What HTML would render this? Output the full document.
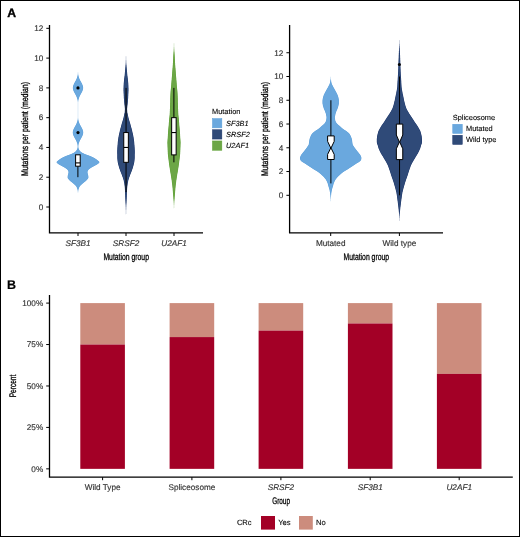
<!DOCTYPE html>
<html><head><meta charset="utf-8"><style>
html,body{margin:0;padding:0;background:#fff;}
svg{display:block;will-change:transform;}
text{font-family:"Liberation Sans",sans-serif;text-rendering:geometricPrecision;}
</style></head><body>
<svg width="520" height="537" viewBox="0 0 520 537">
<rect x="0.5" y="0.5" width="519" height="536" fill="#fff" stroke="#000" stroke-width="1"/>
<text x="7.2" y="17.4" font-size="12.2" text-anchor="start" fill="#000" font-weight="bold" stroke="#000" stroke-width="0.35">A</text>
<text x="7.1" y="288.7" font-size="12.5" text-anchor="start" fill="#000" font-weight="bold" stroke="#000" stroke-width="0.2">B</text>
<path d="M49.5,25 L49.5,232.9 L203,232.9" fill="none" stroke="#000" stroke-width="1.3"/>
<line x1="46.3" y1="207.00" x2="49.5" y2="207.00" stroke="#000" stroke-width="1"/>
<text x="43.3" y="209.8" font-size="8.2" text-anchor="end" fill="#333" font-weight="normal" stroke="#333" stroke-width="0.15">0</text>
<line x1="46.3" y1="177.22" x2="49.5" y2="177.22" stroke="#000" stroke-width="1"/>
<text x="43.3" y="180.02" font-size="8.2" text-anchor="end" fill="#333" font-weight="normal" stroke="#333" stroke-width="0.15">2</text>
<line x1="46.3" y1="147.44" x2="49.5" y2="147.44" stroke="#000" stroke-width="1"/>
<text x="43.3" y="150.24" font-size="8.2" text-anchor="end" fill="#333" font-weight="normal" stroke="#333" stroke-width="0.15">4</text>
<line x1="46.3" y1="117.66" x2="49.5" y2="117.66" stroke="#000" stroke-width="1"/>
<text x="43.3" y="120.46" font-size="8.2" text-anchor="end" fill="#333" font-weight="normal" stroke="#333" stroke-width="0.15">6</text>
<line x1="46.3" y1="87.88" x2="49.5" y2="87.88" stroke="#000" stroke-width="1"/>
<text x="43.3" y="90.67999999999999" font-size="8.2" text-anchor="end" fill="#333" font-weight="normal" stroke="#333" stroke-width="0.15">8</text>
<line x1="46.3" y1="58.10" x2="49.5" y2="58.10" stroke="#000" stroke-width="1"/>
<text x="43.3" y="60.89999999999999" font-size="8.2" text-anchor="end" fill="#333" font-weight="normal" stroke="#333" stroke-width="0.15">10</text>
<line x1="46.3" y1="28.32" x2="49.5" y2="28.32" stroke="#000" stroke-width="1"/>
<text x="43.3" y="31.119999999999994" font-size="8.2" text-anchor="end" fill="#333" font-weight="normal" stroke="#333" stroke-width="0.15">12</text>
<line x1="78" y1="233" x2="78" y2="236" stroke="#000" stroke-width="1"/>
<text x="78" y="246.4" font-size="8.2" text-anchor="middle" fill="#333" font-weight="normal" font-style="italic" stroke="#333" stroke-width="0.15">SF3B1</text>
<line x1="126" y1="233" x2="126" y2="236" stroke="#000" stroke-width="1"/>
<text x="126" y="246.4" font-size="8.2" text-anchor="middle" fill="#333" font-weight="normal" font-style="italic" stroke="#333" stroke-width="0.15">SRSF2</text>
<line x1="174" y1="233" x2="174" y2="236" stroke="#000" stroke-width="1"/>
<text x="174" y="246.4" font-size="8.2" text-anchor="middle" fill="#333" font-weight="normal" font-style="italic" stroke="#333" stroke-width="0.15">U2AF1</text>
<text x="126.2" y="260" font-size="9.6" text-anchor="middle" fill="#000" font-weight="normal" stroke="#000" stroke-width="0.3" textLength="45.5" lengthAdjust="spacingAndGlyphs">Mutation group</text>
<text x="28.2" y="129" font-size="9.6" text-anchor="middle" fill="#000" font-weight="normal" stroke="#000" stroke-width="0.3" textLength="94" lengthAdjust="spacingAndGlyphs" transform="rotate(-90 28.2 129)">Mutations per patient (median)</text>
<path d="M78.0,69.5 L78.0,70.0 L78.0,70.5 L78.0,71.0 L78.0,71.5 L78.0,72.0 L78.1,72.5 L78.1,73.0 L78.1,73.5 L78.2,74.0 L78.2,74.5 L78.3,75.0 L78.4,75.5 L78.5,76.0 L78.6,76.5 L78.8,77.0 L78.9,77.5 L79.1,78.0 L79.3,78.5 L79.5,79.0 L79.7,79.5 L80.0,80.0 L80.2,80.5 L80.5,81.0 L80.8,81.5 L81.1,82.0 L81.3,82.5 L81.6,83.0 L81.9,83.5 L82.1,84.0 L82.3,84.5 L82.5,85.0 L82.7,85.5 L82.9,86.0 L83.0,86.5 L83.1,87.0 L83.1,87.5 L83.1,88.0 L83.1,88.5 L83.0,89.0 L82.9,89.5 L82.8,90.0 L82.6,90.5 L82.4,91.0 L82.2,91.5 L81.9,92.0 L81.7,92.5 L81.4,93.0 L81.1,93.5 L80.8,94.0 L80.6,94.5 L80.3,95.0 L80.0,95.5 L79.8,96.0 L79.6,96.5 L79.3,97.0 L79.2,97.5 L79.0,98.0 L78.8,98.5 L78.7,99.0 L78.5,99.5 L78.4,100.0 L78.3,100.5 L78.3,101.0 L78.2,101.5 L78.1,102.0 L78.1,102.5 L78.1,103.0 L78.1,103.5 L78.1,104.0 L78.1,104.5 L78.1,105.0 L78.1,105.5 L78.1,106.0 L78.1,106.5 L78.1,107.0 L78.1,107.5 L78.1,108.0 L78.1,108.5 L78.1,109.0 L78.1,109.5 L78.1,110.0 L78.1,110.5 L78.1,111.0 L78.1,111.5 L78.1,112.0 L78.1,112.5 L78.1,113.0 L78.1,113.5 L78.1,114.0 L78.1,114.5 L78.1,115.0 L78.1,115.5 L78.1,116.0 L78.1,116.5 L78.1,117.0 L78.1,117.5 L78.1,118.0 L78.2,118.5 L78.2,119.0 L78.3,119.5 L78.4,120.0 L78.5,120.5 L78.6,121.0 L78.7,121.5 L78.9,122.0 L79.1,122.5 L79.3,123.0 L79.5,123.5 L79.7,124.0 L79.9,124.5 L80.2,125.0 L80.5,125.5 L80.7,126.0 L81.0,126.5 L81.3,127.0 L81.6,127.5 L81.8,128.0 L82.1,128.5 L82.3,129.0 L82.6,129.5 L82.7,130.0 L82.9,130.5 L83.0,131.0 L83.1,131.5 L83.2,132.0 L83.2,132.5 L83.2,133.0 L83.1,133.5 L83.0,134.0 L82.9,134.5 L82.7,135.0 L82.6,135.5 L82.3,136.0 L82.1,136.5 L81.8,137.0 L81.6,137.5 L81.3,138.0 L81.0,138.5 L80.7,139.0 L80.5,139.5 L80.2,140.0 L79.9,140.5 L79.7,141.0 L79.5,141.5 L79.3,142.0 L79.1,142.5 L78.9,143.0 L78.7,143.5 L78.6,144.0 L78.5,144.5 L78.4,145.0 L78.4,145.5 L78.4,146.0 L78.3,146.5 L78.4,147.0 L78.4,147.5 L78.5,148.0 L78.6,148.5 L78.8,149.0 L79.0,149.5 L79.3,150.0 L79.6,150.5 L80.0,151.0 L80.5,151.5 L81.0,152.0 L81.8,152.5 L82.6,153.0 L83.6,153.5 L84.7,154.0 L85.9,154.5 L87.3,155.0 L88.7,155.5 L90.0,156.0 L91.2,156.5 L92.3,157.0 L93.3,157.5 L94.2,158.0 L95.1,158.5 L95.8,159.0 L96.6,159.5 L97.2,160.0 L97.8,160.5 L98.5,161.0 L99.0,161.5 L99.4,162.0 L99.4,162.5 L99.0,163.0 L98.4,163.5 L97.7,164.0 L97.0,164.5 L96.1,165.0 L95.1,165.5 L94.2,166.0 L93.3,166.5 L92.4,167.0 L91.5,167.5 L90.7,168.0 L90.0,168.5 L89.3,169.0 L88.7,169.5 L88.3,170.0 L88.0,170.5 L87.8,171.0 L87.6,171.5 L87.5,172.0 L87.5,172.5 L87.6,173.0 L87.7,173.5 L87.8,174.0 L87.9,174.5 L88.1,175.0 L88.2,175.5 L88.3,176.0 L88.4,176.5 L88.4,177.0 L88.4,177.5 L88.3,178.0 L88.0,178.5 L87.7,179.0 L87.2,179.5 L86.8,180.0 L86.3,180.5 L85.8,181.0 L85.2,181.5 L84.5,182.0 L83.9,182.5 L83.3,183.0 L82.7,183.5 L82.1,184.0 L81.6,184.5 L81.0,185.0 L80.5,185.5 L80.1,186.0 L79.7,186.5 L79.4,187.0 L79.2,187.5 L79.0,188.0 L78.8,188.5 L78.6,189.0 L78.5,189.5 L78.4,190.0 L78.3,190.5 L78.2,191.0 L78.2,191.5 L78.1,192.0 L78.1,192.5 L78.0,193.0 L78.0,193.5 L78.0,194.0 L78.0,194.5 L78.0,195.0 L78.0,195.5 L78.0,196.0 L78.0,196.0 L78.0,195.5 L78.0,195.0 L78.0,194.5 L78.0,194.0 L78.0,193.5 L78.0,193.0 L77.9,192.5 L77.9,192.0 L77.8,191.5 L77.8,191.0 L77.7,190.5 L77.6,190.0 L77.5,189.5 L77.4,189.0 L77.2,188.5 L77.0,188.0 L76.8,187.5 L76.6,187.0 L76.3,186.5 L75.9,186.0 L75.5,185.5 L75.0,185.0 L74.4,184.5 L73.9,184.0 L73.3,183.5 L72.7,183.0 L72.1,182.5 L71.5,182.0 L70.8,181.5 L70.2,181.0 L69.7,180.5 L69.2,180.0 L68.8,179.5 L68.3,179.0 L68.0,178.5 L67.7,178.0 L67.6,177.5 L67.6,177.0 L67.6,176.5 L67.7,176.0 L67.8,175.5 L67.9,175.0 L68.1,174.5 L68.2,174.0 L68.3,173.5 L68.4,173.0 L68.5,172.5 L68.5,172.0 L68.4,171.5 L68.2,171.0 L68.0,170.5 L67.7,170.0 L67.3,169.5 L66.7,169.0 L66.0,168.5 L65.3,168.0 L64.5,167.5 L63.6,167.0 L62.7,166.5 L61.8,166.0 L60.9,165.5 L59.9,165.0 L59.0,164.5 L58.3,164.0 L57.6,163.5 L57.0,163.0 L56.6,162.5 L56.6,162.0 L57.0,161.5 L57.5,161.0 L58.2,160.5 L58.8,160.0 L59.4,159.5 L60.2,159.0 L60.9,158.5 L61.8,158.0 L62.7,157.5 L63.7,157.0 L64.8,156.5 L66.0,156.0 L67.3,155.5 L68.7,155.0 L70.1,154.5 L71.3,154.0 L72.4,153.5 L73.4,153.0 L74.2,152.5 L75.0,152.0 L75.5,151.5 L76.0,151.0 L76.4,150.5 L76.7,150.0 L77.0,149.5 L77.2,149.0 L77.4,148.5 L77.5,148.0 L77.6,147.5 L77.6,147.0 L77.7,146.5 L77.6,146.0 L77.6,145.5 L77.6,145.0 L77.5,144.5 L77.4,144.0 L77.3,143.5 L77.1,143.0 L76.9,142.5 L76.7,142.0 L76.5,141.5 L76.3,141.0 L76.1,140.5 L75.8,140.0 L75.5,139.5 L75.3,139.0 L75.0,138.5 L74.7,138.0 L74.4,137.5 L74.2,137.0 L73.9,136.5 L73.7,136.0 L73.4,135.5 L73.3,135.0 L73.1,134.5 L73.0,134.0 L72.9,133.5 L72.8,133.0 L72.8,132.5 L72.8,132.0 L72.9,131.5 L73.0,131.0 L73.1,130.5 L73.3,130.0 L73.4,129.5 L73.7,129.0 L73.9,128.5 L74.2,128.0 L74.4,127.5 L74.7,127.0 L75.0,126.5 L75.3,126.0 L75.5,125.5 L75.8,125.0 L76.1,124.5 L76.3,124.0 L76.5,123.5 L76.7,123.0 L76.9,122.5 L77.1,122.0 L77.3,121.5 L77.4,121.0 L77.5,120.5 L77.6,120.0 L77.7,119.5 L77.8,119.0 L77.8,118.5 L77.9,118.0 L77.9,117.5 L77.9,117.0 L77.9,116.5 L77.9,116.0 L77.9,115.5 L77.9,115.0 L77.9,114.5 L77.9,114.0 L77.9,113.5 L77.9,113.0 L77.9,112.5 L77.9,112.0 L77.9,111.5 L77.9,111.0 L77.9,110.5 L77.9,110.0 L77.9,109.5 L77.9,109.0 L77.9,108.5 L77.9,108.0 L77.9,107.5 L77.9,107.0 L77.9,106.5 L77.9,106.0 L77.9,105.5 L77.9,105.0 L77.9,104.5 L77.9,104.0 L77.9,103.5 L77.9,103.0 L77.9,102.5 L77.9,102.0 L77.8,101.5 L77.7,101.0 L77.7,100.5 L77.6,100.0 L77.5,99.5 L77.3,99.0 L77.2,98.5 L77.0,98.0 L76.8,97.5 L76.7,97.0 L76.4,96.5 L76.2,96.0 L76.0,95.5 L75.7,95.0 L75.4,94.5 L75.2,94.0 L74.9,93.5 L74.6,93.0 L74.3,92.5 L74.1,92.0 L73.8,91.5 L73.6,91.0 L73.4,90.5 L73.2,90.0 L73.1,89.5 L73.0,89.0 L72.9,88.5 L72.9,88.0 L72.9,87.5 L72.9,87.0 L73.0,86.5 L73.1,86.0 L73.3,85.5 L73.5,85.0 L73.7,84.5 L73.9,84.0 L74.1,83.5 L74.4,83.0 L74.7,82.5 L74.9,82.0 L75.2,81.5 L75.5,81.0 L75.8,80.5 L76.0,80.0 L76.3,79.5 L76.5,79.0 L76.7,78.5 L76.9,78.0 L77.1,77.5 L77.2,77.0 L77.4,76.5 L77.5,76.0 L77.6,75.5 L77.7,75.0 L77.8,74.5 L77.8,74.0 L77.9,73.5 L77.9,73.0 L77.9,72.5 L78.0,72.0 L78.0,71.5 L78.0,71.0 L78.0,70.5 L78.0,70.0 L78.0,69.5Z" fill="#5A9EDA"/>
<path d="M78.1,75.5 L78.2,76.0 L78.3,76.5 L78.4,77.0 L78.6,77.5 L78.8,78.0 L79.0,78.5 L79.2,79.0 L79.4,79.5 L79.6,80.0 L79.9,80.5 L80.2,81.0 L80.4,81.5 L80.7,82.0 L81.0,82.5 L81.3,83.0 L81.5,83.5 L81.8,84.0 L82.0,84.5 L82.2,85.0 L82.4,85.5 L82.5,86.0 L82.6,86.5 L82.7,87.0 L82.8,87.5 L82.8,88.0 L82.7,88.5 L82.7,89.0 L82.5,89.5 L82.4,90.0 L82.2,90.5 L82.0,91.0 L81.8,91.5 L81.6,92.0 L81.3,92.5 L81.0,93.0 L80.8,93.5 L80.5,94.0 L80.2,94.5 L79.9,95.0 L79.7,95.5 L79.4,96.0 L79.2,96.5 L79.0,97.0 L78.8,97.5 L78.6,98.0 L78.5,98.5 L78.3,99.0 L78.2,99.5 L78.1,100.0 L78.0,100.5 L78.0,101.0 L78.0,101.5 L78.0,102.0 L78.0,102.5 L78.0,103.0 L78.0,103.5 L78.0,104.0 L78.0,104.5 L78.0,105.0 L78.0,105.5 L78.0,106.0 L78.0,106.5 L78.0,107.0 L78.0,107.5 L78.0,108.0 L78.0,108.5 L78.0,109.0 L78.0,109.5 L78.0,110.0 L78.0,110.5 L78.0,111.0 L78.0,111.5 L78.0,112.0 L78.0,112.5 L78.0,113.0 L78.0,113.5 L78.0,114.0 L78.0,114.5 L78.0,115.0 L78.0,115.5 L78.0,116.0 L78.0,116.5 L78.0,117.0 L78.0,117.5 L78.0,118.0 L78.0,118.5 L78.0,119.0 L78.0,119.5 L78.0,120.0 L78.1,120.5 L78.3,121.0 L78.4,121.5 L78.5,122.0 L78.7,122.5 L78.9,123.0 L79.1,123.5 L79.3,124.0 L79.6,124.5 L79.8,125.0 L80.1,125.5 L80.4,126.0 L80.7,126.5 L80.9,127.0 L81.2,127.5 L81.5,128.0 L81.7,128.5 L82.0,129.0 L82.2,129.5 L82.4,130.0 L82.6,130.5 L82.7,131.0 L82.8,131.5 L82.8,132.0 L82.9,132.5 L82.8,133.0 L82.8,133.5 L82.7,134.0 L82.6,134.5 L82.4,135.0 L82.2,135.5 L82.0,136.0 L81.7,136.5 L81.5,137.0 L81.2,137.5 L80.9,138.0 L80.7,138.5 L80.4,139.0 L80.1,139.5 L79.8,140.0 L79.6,140.5 L79.3,141.0 L79.1,141.5 L78.9,142.0 L78.7,142.5 L78.5,143.0 L78.4,143.5 L78.3,144.0 L78.2,144.5 L78.1,145.0 L78.0,145.5 L78.0,146.0 L78.0,146.5 L78.0,147.0 L78.0,147.5 L78.1,148.0 L78.2,148.5 L78.4,149.0 L78.7,149.5 L79.0,150.0 L79.3,150.5 L79.7,151.0 L80.1,151.5 L80.7,152.0 L81.4,152.5 L82.3,153.0 L83.3,153.5 L84.4,154.0 L85.6,154.5 L87.0,155.0 L88.4,155.5 L89.7,156.0 L90.8,156.5 L91.9,157.0 L92.9,157.5 L93.9,158.0 L94.7,158.5 L95.5,159.0 L96.2,159.5 L96.9,160.0 L97.5,160.5 L98.1,161.0 L98.7,161.5 L99.0,162.0 L99.1,162.5 L98.7,163.0 L98.0,163.5 L97.4,164.0 L96.6,164.5 L95.7,165.0 L94.8,165.5 L93.9,166.0 L93.0,166.5 L92.0,167.0 L91.1,167.5 L90.4,168.0 L89.6,168.5 L89.0,169.0 L88.4,169.5 L88.0,170.0 L87.7,170.5 L87.4,171.0 L87.2,171.5 L87.2,172.0 L87.2,172.5 L87.3,173.0 L87.4,173.5 L87.5,174.0 L87.6,174.5 L87.7,175.0 L87.9,175.5 L88.0,176.0 L88.0,176.5 L88.0,177.0 L88.1,177.5 L88.0,178.0 L87.7,178.5 L87.3,179.0 L86.9,179.5 L86.4,180.0 L86.0,180.5 L85.4,181.0 L84.8,181.5 L84.2,182.0 L83.5,182.5 L82.9,183.0 L82.4,183.5 L81.8,184.0 L81.2,184.5 L80.7,185.0 L80.2,185.5 L79.7,186.0 L79.3,186.5 L79.1,187.0 L78.8,187.5 L78.6,188.0 L78.4,188.5 L78.3,189.0 L78.1,189.5 L78.0,190.0 L78.0,190.0 L77.9,189.5 L77.7,189.0 L77.6,188.5 L77.4,188.0 L77.2,187.5 L76.9,187.0 L76.7,186.5 L76.3,186.0 L75.8,185.5 L75.3,185.0 L74.8,184.5 L74.2,184.0 L73.6,183.5 L73.1,183.0 L72.5,182.5 L71.8,182.0 L71.2,181.5 L70.6,181.0 L70.0,180.5 L69.6,180.0 L69.1,179.5 L68.7,179.0 L68.3,178.5 L68.0,178.0 L67.9,177.5 L68.0,177.0 L68.0,176.5 L68.0,176.0 L68.1,175.5 L68.3,175.0 L68.4,174.5 L68.5,174.0 L68.6,173.5 L68.7,173.0 L68.8,172.5 L68.8,172.0 L68.8,171.5 L68.6,171.0 L68.3,170.5 L68.0,170.0 L67.6,169.5 L67.0,169.0 L66.4,168.5 L65.6,168.0 L64.9,167.5 L64.0,167.0 L63.0,166.5 L62.1,166.0 L61.2,165.5 L60.3,165.0 L59.4,164.5 L58.6,164.0 L58.0,163.5 L57.3,163.0 L56.9,162.5 L57.0,162.0 L57.3,161.5 L57.9,161.0 L58.5,160.5 L59.1,160.0 L59.8,159.5 L60.5,159.0 L61.3,158.5 L62.1,158.0 L63.1,157.5 L64.1,157.0 L65.2,156.5 L66.3,156.0 L67.6,155.5 L69.0,155.0 L70.4,154.5 L71.6,154.0 L72.7,153.5 L73.7,153.0 L74.6,152.5 L75.3,152.0 L75.9,151.5 L76.3,151.0 L76.7,150.5 L77.0,150.0 L77.3,149.5 L77.6,149.0 L77.8,148.5 L77.9,148.0 L78.0,147.5 L78.0,147.0 L78.0,146.5 L78.0,146.0 L78.0,145.5 L77.9,145.0 L77.8,144.5 L77.7,144.0 L77.6,143.5 L77.5,143.0 L77.3,142.5 L77.1,142.0 L76.9,141.5 L76.7,141.0 L76.4,140.5 L76.2,140.0 L75.9,139.5 L75.6,139.0 L75.3,138.5 L75.1,138.0 L74.8,137.5 L74.5,137.0 L74.3,136.5 L74.0,136.0 L73.8,135.5 L73.6,135.0 L73.4,134.5 L73.3,134.0 L73.2,133.5 L73.2,133.0 L73.1,132.5 L73.2,132.0 L73.2,131.5 L73.3,131.0 L73.4,130.5 L73.6,130.0 L73.8,129.5 L74.0,129.0 L74.3,128.5 L74.5,128.0 L74.8,127.5 L75.1,127.0 L75.3,126.5 L75.6,126.0 L75.9,125.5 L76.2,125.0 L76.4,124.5 L76.7,124.0 L76.9,123.5 L77.1,123.0 L77.3,122.5 L77.5,122.0 L77.6,121.5 L77.7,121.0 L77.9,120.5 L78.0,120.0 L78.0,119.5 L78.0,119.0 L78.0,118.5 L78.0,118.0 L78.0,117.5 L78.0,117.0 L78.0,116.5 L78.0,116.0 L78.0,115.5 L78.0,115.0 L78.0,114.5 L78.0,114.0 L78.0,113.5 L78.0,113.0 L78.0,112.5 L78.0,112.0 L78.0,111.5 L78.0,111.0 L78.0,110.5 L78.0,110.0 L78.0,109.5 L78.0,109.0 L78.0,108.5 L78.0,108.0 L78.0,107.5 L78.0,107.0 L78.0,106.5 L78.0,106.0 L78.0,105.5 L78.0,105.0 L78.0,104.5 L78.0,104.0 L78.0,103.5 L78.0,103.0 L78.0,102.5 L78.0,102.0 L78.0,101.5 L78.0,101.0 L78.0,100.5 L77.9,100.0 L77.8,99.5 L77.7,99.0 L77.5,98.5 L77.4,98.0 L77.2,97.5 L77.0,97.0 L76.8,96.5 L76.6,96.0 L76.3,95.5 L76.1,95.0 L75.8,94.5 L75.5,94.0 L75.2,93.5 L75.0,93.0 L74.7,92.5 L74.4,92.0 L74.2,91.5 L74.0,91.0 L73.8,90.5 L73.6,90.0 L73.5,89.5 L73.3,89.0 L73.3,88.5 L73.2,88.0 L73.2,87.5 L73.3,87.0 L73.4,86.5 L73.5,86.0 L73.6,85.5 L73.8,85.0 L74.0,84.5 L74.2,84.0 L74.5,83.5 L74.7,83.0 L75.0,82.5 L75.3,82.0 L75.6,81.5 L75.8,81.0 L76.1,80.5 L76.4,80.0 L76.6,79.5 L76.8,79.0 L77.0,78.5 L77.2,78.0 L77.4,77.5 L77.6,77.0 L77.7,76.5 L77.8,76.0 L77.9,75.5Z" fill="#6AA8DE"/>
<path d="M126.0,52.0 L126.0,52.5 L126.0,53.0 L126.0,53.5 L126.0,54.0 L126.0,54.5 L126.0,55.0 L126.0,55.5 L126.0,56.0 L126.1,56.5 L126.1,57.0 L126.1,57.5 L126.1,58.0 L126.1,58.5 L126.1,59.0 L126.1,59.5 L126.1,60.0 L126.2,60.5 L126.2,61.0 L126.2,61.5 L126.2,62.0 L126.2,62.5 L126.3,63.0 L126.3,63.5 L126.3,64.0 L126.4,64.5 L126.4,65.0 L126.5,65.5 L126.5,66.0 L126.5,66.5 L126.6,67.0 L126.6,67.5 L126.7,68.0 L126.7,68.5 L126.8,69.0 L126.8,69.5 L126.9,70.0 L126.9,70.5 L127.0,71.0 L127.0,71.5 L127.1,72.0 L127.1,72.5 L127.1,73.0 L127.2,73.5 L127.2,74.0 L127.3,74.5 L127.3,75.0 L127.4,75.5 L127.4,76.0 L127.5,76.5 L127.6,77.0 L127.6,77.5 L127.7,78.0 L127.8,78.5 L127.8,79.0 L127.9,79.5 L127.9,80.0 L128.0,80.5 L128.0,81.0 L128.1,81.5 L128.1,82.0 L128.2,82.5 L128.2,83.0 L128.3,83.5 L128.3,84.0 L128.3,84.5 L128.4,85.0 L128.4,85.5 L128.4,86.0 L128.4,86.5 L128.4,87.0 L128.4,87.5 L128.5,88.0 L128.5,88.5 L128.5,89.0 L128.5,89.5 L128.5,90.0 L128.5,90.5 L128.5,91.0 L128.4,91.5 L128.4,92.0 L128.4,92.5 L128.4,93.0 L128.4,93.5 L128.3,94.0 L128.3,94.5 L128.3,95.0 L128.3,95.5 L128.2,96.0 L128.2,96.5 L128.2,97.0 L128.2,97.5 L128.1,98.0 L128.1,98.5 L128.1,99.0 L128.0,99.5 L128.0,100.0 L127.9,100.5 L127.9,101.0 L127.9,101.5 L127.8,102.0 L127.8,102.5 L127.7,103.0 L127.7,103.5 L127.6,104.0 L127.6,104.5 L127.5,105.0 L127.4,105.5 L127.4,106.0 L127.3,106.5 L127.3,107.0 L127.2,107.5 L127.2,108.0 L127.1,108.5 L127.1,109.0 L127.1,109.5 L127.1,110.0 L127.2,110.5 L127.2,111.0 L127.2,111.5 L127.3,112.0 L127.3,112.5 L127.4,113.0 L127.6,113.5 L127.7,114.0 L127.8,114.5 L127.9,115.0 L128.0,115.5 L128.1,116.0 L128.2,116.5 L128.3,117.0 L128.4,117.5 L128.6,118.0 L128.7,118.5 L128.8,119.0 L129.0,119.5 L129.1,120.0 L129.3,120.5 L129.4,121.0 L129.6,121.5 L129.7,122.0 L129.9,122.5 L130.0,123.0 L130.2,123.5 L130.3,124.0 L130.5,124.5 L130.6,125.0 L130.7,125.5 L130.9,126.0 L131.0,126.5 L131.1,127.0 L131.3,127.5 L131.4,128.0 L131.6,128.5 L131.7,129.0 L131.8,129.5 L131.9,130.0 L132.1,130.5 L132.2,131.0 L132.3,131.5 L132.4,132.0 L132.5,132.5 L132.6,133.0 L132.8,133.5 L132.9,134.0 L133.0,134.5 L133.1,135.0 L133.2,135.5 L133.3,136.0 L133.4,136.5 L133.5,137.0 L133.6,137.5 L133.6,138.0 L133.7,138.5 L133.8,139.0 L133.9,139.5 L133.9,140.0 L134.0,140.5 L134.1,141.0 L134.1,141.5 L134.2,142.0 L134.2,142.5 L134.3,143.0 L134.3,143.5 L134.3,144.0 L134.4,144.5 L134.4,145.0 L134.5,145.5 L134.5,146.0 L134.5,146.5 L134.6,147.0 L134.6,147.5 L134.6,148.0 L134.7,148.5 L134.7,149.0 L134.7,149.5 L134.7,150.0 L134.8,150.5 L134.8,151.0 L134.8,151.5 L134.8,152.0 L134.8,152.5 L134.8,153.0 L134.8,153.5 L134.7,154.0 L134.7,154.5 L134.7,155.0 L134.7,155.5 L134.7,156.0 L134.7,156.5 L134.7,157.0 L134.7,157.5 L134.7,158.0 L134.7,158.5 L134.6,159.0 L134.6,159.5 L134.5,160.0 L134.5,160.5 L134.4,161.0 L134.4,161.5 L134.3,162.0 L134.2,162.5 L134.1,163.0 L134.0,163.5 L133.9,164.0 L133.7,164.5 L133.6,165.0 L133.5,165.5 L133.3,166.0 L133.2,166.5 L133.0,167.0 L132.9,167.5 L132.8,168.0 L132.6,168.5 L132.4,169.0 L132.2,169.5 L132.1,170.0 L131.9,170.5 L131.7,171.0 L131.5,171.5 L131.3,172.0 L131.1,172.5 L130.9,173.0 L130.7,173.5 L130.5,174.0 L130.3,174.5 L130.1,175.0 L130.0,175.5 L129.8,176.0 L129.6,176.5 L129.4,177.0 L129.2,177.5 L129.0,178.0 L128.9,178.5 L128.7,179.0 L128.6,179.5 L128.4,180.0 L128.3,180.5 L128.2,181.0 L128.1,181.5 L128.0,182.0 L127.9,182.5 L127.8,183.0 L127.7,183.5 L127.6,184.0 L127.6,184.5 L127.5,185.0 L127.4,185.5 L127.4,186.0 L127.3,186.5 L127.2,187.0 L127.2,187.5 L127.2,188.0 L127.1,188.5 L127.1,189.0 L127.1,189.5 L127.0,190.0 L127.0,190.5 L127.0,191.0 L127.0,191.5 L127.0,192.0 L126.9,192.5 L126.9,193.0 L126.9,193.5 L126.9,194.0 L126.9,194.5 L126.8,195.0 L126.8,195.5 L126.8,196.0 L126.8,196.5 L126.8,197.0 L126.7,197.5 L126.7,198.0 L126.7,198.5 L126.7,199.0 L126.6,199.5 L126.6,200.0 L126.6,200.5 L126.6,201.0 L126.5,201.5 L126.5,202.0 L126.5,202.5 L126.5,203.0 L126.4,203.5 L126.4,204.0 L126.4,204.5 L126.3,205.0 L126.3,205.5 L126.3,206.0 L126.3,206.5 L126.2,207.0 L126.2,207.5 L126.2,208.0 L126.2,208.5 L126.2,209.0 L126.2,209.5 L126.1,210.0 L126.1,210.5 L126.1,211.0 L126.1,211.5 L126.1,212.0 L126.1,212.5 L126.1,213.0 L126.1,213.5 L126.1,214.0 L126.0,214.5 L126.0,215.0 L126.0,215.5 L126.0,216.0 L126.0,216.5 L126.0,217.0 L126.0,217.5 L126.0,218.0 L126.0,218.5 L126.0,219.0 L126.0,219.5 L126.0,220.0 L126.0,220.5 L126.0,221.0 L126.0,221.5 L126.0,221.5 L126.0,221.0 L126.0,220.5 L126.0,220.0 L126.0,219.5 L126.0,219.0 L126.0,218.5 L126.0,218.0 L126.0,217.5 L126.0,217.0 L126.0,216.5 L126.0,216.0 L126.0,215.5 L126.0,215.0 L126.0,214.5 L125.9,214.0 L125.9,213.5 L125.9,213.0 L125.9,212.5 L125.9,212.0 L125.9,211.5 L125.9,211.0 L125.9,210.5 L125.9,210.0 L125.8,209.5 L125.8,209.0 L125.8,208.5 L125.8,208.0 L125.8,207.5 L125.8,207.0 L125.7,206.5 L125.7,206.0 L125.7,205.5 L125.7,205.0 L125.6,204.5 L125.6,204.0 L125.6,203.5 L125.5,203.0 L125.5,202.5 L125.5,202.0 L125.5,201.5 L125.4,201.0 L125.4,200.5 L125.4,200.0 L125.4,199.5 L125.3,199.0 L125.3,198.5 L125.3,198.0 L125.3,197.5 L125.2,197.0 L125.2,196.5 L125.2,196.0 L125.2,195.5 L125.2,195.0 L125.1,194.5 L125.1,194.0 L125.1,193.5 L125.1,193.0 L125.1,192.5 L125.0,192.0 L125.0,191.5 L125.0,191.0 L125.0,190.5 L125.0,190.0 L124.9,189.5 L124.9,189.0 L124.9,188.5 L124.8,188.0 L124.8,187.5 L124.8,187.0 L124.7,186.5 L124.6,186.0 L124.6,185.5 L124.5,185.0 L124.4,184.5 L124.4,184.0 L124.3,183.5 L124.2,183.0 L124.1,182.5 L124.0,182.0 L123.9,181.5 L123.8,181.0 L123.7,180.5 L123.6,180.0 L123.4,179.5 L123.3,179.0 L123.1,178.5 L123.0,178.0 L122.8,177.5 L122.6,177.0 L122.4,176.5 L122.2,176.0 L122.0,175.5 L121.9,175.0 L121.7,174.5 L121.5,174.0 L121.3,173.5 L121.1,173.0 L120.9,172.5 L120.7,172.0 L120.5,171.5 L120.3,171.0 L120.1,170.5 L119.9,170.0 L119.8,169.5 L119.6,169.0 L119.4,168.5 L119.2,168.0 L119.1,167.5 L119.0,167.0 L118.8,166.5 L118.7,166.0 L118.5,165.5 L118.4,165.0 L118.3,164.5 L118.1,164.0 L118.0,163.5 L117.9,163.0 L117.8,162.5 L117.7,162.0 L117.6,161.5 L117.6,161.0 L117.5,160.5 L117.5,160.0 L117.4,159.5 L117.4,159.0 L117.3,158.5 L117.3,158.0 L117.3,157.5 L117.3,157.0 L117.3,156.5 L117.3,156.0 L117.3,155.5 L117.3,155.0 L117.3,154.5 L117.3,154.0 L117.2,153.5 L117.2,153.0 L117.2,152.5 L117.2,152.0 L117.2,151.5 L117.2,151.0 L117.2,150.5 L117.3,150.0 L117.3,149.5 L117.3,149.0 L117.3,148.5 L117.4,148.0 L117.4,147.5 L117.4,147.0 L117.5,146.5 L117.5,146.0 L117.5,145.5 L117.6,145.0 L117.6,144.5 L117.7,144.0 L117.7,143.5 L117.7,143.0 L117.8,142.5 L117.8,142.0 L117.9,141.5 L117.9,141.0 L118.0,140.5 L118.1,140.0 L118.1,139.5 L118.2,139.0 L118.3,138.5 L118.4,138.0 L118.4,137.5 L118.5,137.0 L118.6,136.5 L118.7,136.0 L118.8,135.5 L118.9,135.0 L119.0,134.5 L119.1,134.0 L119.2,133.5 L119.4,133.0 L119.5,132.5 L119.6,132.0 L119.7,131.5 L119.8,131.0 L119.9,130.5 L120.1,130.0 L120.2,129.5 L120.3,129.0 L120.4,128.5 L120.6,128.0 L120.7,127.5 L120.9,127.0 L121.0,126.5 L121.1,126.0 L121.3,125.5 L121.4,125.0 L121.5,124.5 L121.7,124.0 L121.8,123.5 L122.0,123.0 L122.1,122.5 L122.3,122.0 L122.4,121.5 L122.6,121.0 L122.7,120.5 L122.9,120.0 L123.0,119.5 L123.2,119.0 L123.3,118.5 L123.4,118.0 L123.6,117.5 L123.7,117.0 L123.8,116.5 L123.9,116.0 L124.0,115.5 L124.1,115.0 L124.2,114.5 L124.3,114.0 L124.4,113.5 L124.6,113.0 L124.7,112.5 L124.7,112.0 L124.8,111.5 L124.8,111.0 L124.8,110.5 L124.9,110.0 L124.9,109.5 L124.9,109.0 L124.9,108.5 L124.8,108.0 L124.8,107.5 L124.7,107.0 L124.7,106.5 L124.6,106.0 L124.6,105.5 L124.5,105.0 L124.4,104.5 L124.4,104.0 L124.3,103.5 L124.3,103.0 L124.2,102.5 L124.2,102.0 L124.1,101.5 L124.1,101.0 L124.1,100.5 L124.0,100.0 L124.0,99.5 L123.9,99.0 L123.9,98.5 L123.9,98.0 L123.8,97.5 L123.8,97.0 L123.8,96.5 L123.8,96.0 L123.7,95.5 L123.7,95.0 L123.7,94.5 L123.7,94.0 L123.6,93.5 L123.6,93.0 L123.6,92.5 L123.6,92.0 L123.6,91.5 L123.5,91.0 L123.5,90.5 L123.5,90.0 L123.5,89.5 L123.5,89.0 L123.5,88.5 L123.5,88.0 L123.6,87.5 L123.6,87.0 L123.6,86.5 L123.6,86.0 L123.6,85.5 L123.6,85.0 L123.7,84.5 L123.7,84.0 L123.7,83.5 L123.8,83.0 L123.8,82.5 L123.9,82.0 L123.9,81.5 L124.0,81.0 L124.0,80.5 L124.1,80.0 L124.1,79.5 L124.2,79.0 L124.2,78.5 L124.3,78.0 L124.4,77.5 L124.4,77.0 L124.5,76.5 L124.6,76.0 L124.6,75.5 L124.7,75.0 L124.7,74.5 L124.8,74.0 L124.8,73.5 L124.9,73.0 L124.9,72.5 L124.9,72.0 L125.0,71.5 L125.0,71.0 L125.1,70.5 L125.1,70.0 L125.2,69.5 L125.2,69.0 L125.3,68.5 L125.3,68.0 L125.4,67.5 L125.4,67.0 L125.5,66.5 L125.5,66.0 L125.5,65.5 L125.6,65.0 L125.6,64.5 L125.7,64.0 L125.7,63.5 L125.7,63.0 L125.8,62.5 L125.8,62.0 L125.8,61.5 L125.8,61.0 L125.8,60.5 L125.9,60.0 L125.9,59.5 L125.9,59.0 L125.9,58.5 L125.9,58.0 L125.9,57.5 L125.9,57.0 L125.9,56.5 L126.0,56.0 L126.0,55.5 L126.0,55.0 L126.0,54.5 L126.0,54.0 L126.0,53.5 L126.0,53.0 L126.0,52.5 L126.0,52.0Z" fill="#193269"/>
<path d="M126.0,64.5 L126.1,65.0 L126.1,65.5 L126.1,66.0 L126.2,66.5 L126.2,67.0 L126.3,67.5 L126.3,68.0 L126.4,68.5 L126.4,69.0 L126.5,69.5 L126.5,70.0 L126.6,70.5 L126.6,71.0 L126.7,71.5 L126.7,72.0 L126.8,72.5 L126.8,73.0 L126.8,73.5 L126.9,74.0 L126.9,74.5 L127.0,75.0 L127.0,75.5 L127.1,76.0 L127.2,76.5 L127.2,77.0 L127.3,77.5 L127.3,78.0 L127.4,78.5 L127.5,79.0 L127.5,79.5 L127.6,80.0 L127.6,80.5 L127.7,81.0 L127.7,81.5 L127.8,82.0 L127.8,82.5 L127.9,83.0 L127.9,83.5 L128.0,84.0 L128.0,84.5 L128.0,85.0 L128.0,85.5 L128.0,86.0 L128.1,86.5 L128.1,87.0 L128.1,87.5 L128.1,88.0 L128.1,88.5 L128.1,89.0 L128.1,89.5 L128.1,90.0 L128.1,90.5 L128.1,91.0 L128.1,91.5 L128.1,92.0 L128.1,92.5 L128.0,93.0 L128.0,93.5 L128.0,94.0 L128.0,94.5 L127.9,95.0 L127.9,95.5 L127.9,96.0 L127.9,96.5 L127.8,97.0 L127.8,97.5 L127.8,98.0 L127.7,98.5 L127.7,99.0 L127.7,99.5 L127.6,100.0 L127.6,100.5 L127.5,101.0 L127.5,101.5 L127.5,102.0 L127.4,102.5 L127.4,103.0 L127.3,103.5 L127.3,104.0 L127.2,104.5 L127.1,105.0 L127.1,105.5 L127.0,106.0 L127.0,106.5 L126.9,107.0 L126.9,107.5 L126.8,108.0 L126.8,108.5 L126.8,109.0 L126.8,109.5 L126.8,110.0 L126.8,110.5 L126.8,111.0 L126.9,111.5 L126.9,112.0 L127.0,112.5 L127.1,113.0 L127.2,113.5 L127.3,114.0 L127.4,114.5 L127.5,115.0 L127.7,115.5 L127.8,116.0 L127.9,116.5 L128.0,117.0 L128.1,117.5 L128.2,118.0 L128.3,118.5 L128.5,119.0 L128.6,119.5 L128.8,120.0 L128.9,120.5 L129.1,121.0 L129.2,121.5 L129.4,122.0 L129.5,122.5 L129.7,123.0 L129.8,123.5 L130.0,124.0 L130.1,124.5 L130.2,125.0 L130.4,125.5 L130.5,126.0 L130.6,126.5 L130.8,127.0 L130.9,127.5 L131.1,128.0 L131.2,128.5 L131.3,129.0 L131.5,129.5 L131.6,130.0 L131.7,130.5 L131.8,131.0 L131.9,131.5 L132.1,132.0 L132.2,132.5 L132.3,133.0 L132.4,133.5 L132.5,134.0 L132.6,134.5 L132.7,135.0 L132.8,135.5 L132.9,136.0 L133.0,136.5 L133.1,137.0 L133.2,137.5 L133.3,138.0 L133.4,138.5 L133.5,139.0 L133.5,139.5 L133.6,140.0 L133.6,140.5 L133.7,141.0 L133.8,141.5 L133.8,142.0 L133.9,142.5 L133.9,143.0 L134.0,143.5 L134.0,144.0 L134.0,144.5 L134.1,145.0 L134.1,145.5 L134.1,146.0 L134.2,146.5 L134.2,147.0 L134.3,147.5 L134.3,148.0 L134.3,148.5 L134.3,149.0 L134.4,149.5 L134.4,150.0 L134.4,150.5 L134.4,151.0 L134.4,151.5 L134.4,152.0 L134.4,152.5 L134.4,153.0 L134.4,153.5 L134.4,154.0 L134.4,154.5 L134.4,155.0 L134.4,155.5 L134.4,156.0 L134.4,156.5 L134.4,157.0 L134.4,157.5 L134.3,158.0 L134.3,158.5 L134.3,159.0 L134.2,159.5 L134.2,160.0 L134.1,160.5 L134.1,161.0 L134.0,161.5 L134.0,162.0 L133.9,162.5 L133.8,163.0 L133.6,163.5 L133.5,164.0 L133.4,164.5 L133.2,165.0 L133.1,165.5 L133.0,166.0 L132.8,166.5 L132.7,167.0 L132.6,167.5 L132.4,168.0 L132.2,168.5 L132.1,169.0 L131.9,169.5 L131.7,170.0 L131.5,170.5 L131.4,171.0 L131.2,171.5 L131.0,172.0 L130.8,172.5 L130.6,173.0 L130.4,173.5 L130.2,174.0 L130.0,174.5 L129.8,175.0 L129.6,175.5 L129.4,176.0 L129.2,176.5 L129.1,177.0 L128.9,177.5 L128.7,178.0 L128.5,178.5 L128.4,179.0 L128.2,179.5 L128.1,180.0 L128.0,180.5 L127.8,181.0 L127.7,181.5 L127.6,182.0 L127.5,182.5 L127.4,183.0 L127.4,183.5 L127.3,184.0 L127.2,184.5 L127.2,185.0 L127.1,185.5 L127.0,186.0 L127.0,186.5 L126.9,187.0 L126.8,187.5 L126.8,188.0 L126.8,188.5 L126.7,189.0 L126.7,189.5 L126.7,190.0 L126.7,190.5 L126.7,191.0 L126.6,191.5 L126.6,192.0 L126.6,192.5 L126.6,193.0 L126.6,193.5 L126.5,194.0 L126.5,194.5 L126.5,195.0 L126.5,195.5 L126.5,196.0 L126.4,196.5 L126.4,197.0 L126.4,197.5 L126.4,198.0 L126.3,198.5 L126.3,199.0 L126.3,199.5 L126.3,200.0 L126.2,200.5 L126.2,201.0 L126.2,201.5 L126.2,202.0 L126.1,202.5 L126.1,203.0 L126.1,203.5 L126.0,204.0 L126.0,204.5 L126.0,204.5 L126.0,204.0 L125.9,203.5 L125.9,203.0 L125.9,202.5 L125.8,202.0 L125.8,201.5 L125.8,201.0 L125.8,200.5 L125.7,200.0 L125.7,199.5 L125.7,199.0 L125.7,198.5 L125.6,198.0 L125.6,197.5 L125.6,197.0 L125.6,196.5 L125.5,196.0 L125.5,195.5 L125.5,195.0 L125.5,194.5 L125.5,194.0 L125.4,193.5 L125.4,193.0 L125.4,192.5 L125.4,192.0 L125.4,191.5 L125.3,191.0 L125.3,190.5 L125.3,190.0 L125.3,189.5 L125.3,189.0 L125.2,188.5 L125.2,188.0 L125.2,187.5 L125.1,187.0 L125.0,186.5 L125.0,186.0 L124.9,185.5 L124.8,185.0 L124.8,184.5 L124.7,184.0 L124.6,183.5 L124.6,183.0 L124.5,182.5 L124.4,182.0 L124.3,181.5 L124.2,181.0 L124.0,180.5 L123.9,180.0 L123.8,179.5 L123.6,179.0 L123.5,178.5 L123.3,178.0 L123.1,177.5 L122.9,177.0 L122.8,176.5 L122.6,176.0 L122.4,175.5 L122.2,175.0 L122.0,174.5 L121.8,174.0 L121.6,173.5 L121.4,173.0 L121.2,172.5 L121.0,172.0 L120.8,171.5 L120.6,171.0 L120.5,170.5 L120.3,170.0 L120.1,169.5 L119.9,169.0 L119.8,168.5 L119.6,168.0 L119.4,167.5 L119.3,167.0 L119.2,166.5 L119.0,166.0 L118.9,165.5 L118.8,165.0 L118.6,164.5 L118.5,164.0 L118.4,163.5 L118.2,163.0 L118.1,162.5 L118.0,162.0 L118.0,161.5 L117.9,161.0 L117.9,160.5 L117.8,160.0 L117.8,159.5 L117.7,159.0 L117.7,158.5 L117.7,158.0 L117.6,157.5 L117.6,157.0 L117.6,156.5 L117.6,156.0 L117.6,155.5 L117.6,155.0 L117.6,154.5 L117.6,154.0 L117.6,153.5 L117.6,153.0 L117.6,152.5 L117.6,152.0 L117.6,151.5 L117.6,151.0 L117.6,150.5 L117.6,150.0 L117.6,149.5 L117.7,149.0 L117.7,148.5 L117.7,148.0 L117.7,147.5 L117.8,147.0 L117.8,146.5 L117.9,146.0 L117.9,145.5 L117.9,145.0 L118.0,144.5 L118.0,144.0 L118.0,143.5 L118.1,143.0 L118.1,142.5 L118.2,142.0 L118.2,141.5 L118.3,141.0 L118.4,140.5 L118.4,140.0 L118.5,139.5 L118.5,139.0 L118.6,138.5 L118.7,138.0 L118.8,137.5 L118.9,137.0 L119.0,136.5 L119.1,136.0 L119.2,135.5 L119.3,135.0 L119.4,134.5 L119.5,134.0 L119.6,133.5 L119.7,133.0 L119.8,132.5 L119.9,132.0 L120.1,131.5 L120.2,131.0 L120.3,130.5 L120.4,130.0 L120.5,129.5 L120.7,129.0 L120.8,128.5 L120.9,128.0 L121.1,127.5 L121.2,127.0 L121.4,126.5 L121.5,126.0 L121.6,125.5 L121.8,125.0 L121.9,124.5 L122.0,124.0 L122.2,123.5 L122.3,123.0 L122.5,122.5 L122.6,122.0 L122.8,121.5 L122.9,121.0 L123.1,120.5 L123.2,120.0 L123.4,119.5 L123.5,119.0 L123.7,118.5 L123.8,118.0 L123.9,117.5 L124.0,117.0 L124.1,116.5 L124.2,116.0 L124.3,115.5 L124.5,115.0 L124.6,114.5 L124.7,114.0 L124.8,113.5 L124.9,113.0 L125.0,112.5 L125.1,112.0 L125.1,111.5 L125.2,111.0 L125.2,110.5 L125.2,110.0 L125.2,109.5 L125.2,109.0 L125.2,108.5 L125.2,108.0 L125.1,107.5 L125.1,107.0 L125.0,106.5 L125.0,106.0 L124.9,105.5 L124.9,105.0 L124.8,104.5 L124.7,104.0 L124.7,103.5 L124.6,103.0 L124.6,102.5 L124.5,102.0 L124.5,101.5 L124.5,101.0 L124.4,100.5 L124.4,100.0 L124.3,99.5 L124.3,99.0 L124.3,98.5 L124.2,98.0 L124.2,97.5 L124.2,97.0 L124.1,96.5 L124.1,96.0 L124.1,95.5 L124.1,95.0 L124.0,94.5 L124.0,94.0 L124.0,93.5 L124.0,93.0 L123.9,92.5 L123.9,92.0 L123.9,91.5 L123.9,91.0 L123.9,90.5 L123.9,90.0 L123.9,89.5 L123.9,89.0 L123.9,88.5 L123.9,88.0 L123.9,87.5 L123.9,87.0 L123.9,86.5 L124.0,86.0 L124.0,85.5 L124.0,85.0 L124.0,84.5 L124.0,84.0 L124.1,83.5 L124.1,83.0 L124.2,82.5 L124.2,82.0 L124.3,81.5 L124.3,81.0 L124.4,80.5 L124.4,80.0 L124.5,79.5 L124.5,79.0 L124.6,78.5 L124.7,78.0 L124.7,77.5 L124.8,77.0 L124.8,76.5 L124.9,76.0 L125.0,75.5 L125.0,75.0 L125.1,74.5 L125.1,74.0 L125.2,73.5 L125.2,73.0 L125.2,72.5 L125.3,72.0 L125.3,71.5 L125.4,71.0 L125.4,70.5 L125.5,70.0 L125.5,69.5 L125.6,69.0 L125.6,68.5 L125.7,68.0 L125.7,67.5 L125.8,67.0 L125.8,66.5 L125.9,66.0 L125.9,65.5 L125.9,65.0 L126.0,64.5Z" fill="#2F4A78"/>
<path d="M174.0,36.5 L174.0,37.0 L174.0,37.5 L174.0,38.0 L174.0,38.5 L174.0,39.0 L174.0,39.5 L174.0,40.0 L174.0,40.5 L174.0,41.0 L174.0,41.5 L174.0,42.0 L174.0,42.5 L174.0,43.0 L174.1,43.5 L174.1,44.0 L174.1,44.5 L174.1,45.0 L174.1,45.5 L174.1,46.0 L174.1,46.5 L174.1,47.0 L174.2,47.5 L174.2,48.0 L174.2,48.5 L174.2,49.0 L174.3,49.5 L174.3,50.0 L174.3,50.5 L174.4,51.0 L174.4,51.5 L174.4,52.0 L174.5,52.5 L174.5,53.0 L174.5,53.5 L174.6,54.0 L174.6,54.5 L174.6,55.0 L174.7,55.5 L174.7,56.0 L174.7,56.5 L174.8,57.0 L174.8,57.5 L174.8,58.0 L174.8,58.5 L174.9,59.0 L174.9,59.5 L174.9,60.0 L174.9,60.5 L175.0,61.0 L175.0,61.5 L175.0,62.0 L175.0,62.5 L175.1,63.0 L175.1,63.5 L175.1,64.0 L175.1,64.5 L175.2,65.0 L175.2,65.5 L175.3,66.0 L175.3,66.5 L175.3,67.0 L175.4,67.5 L175.4,68.0 L175.5,68.5 L175.5,69.0 L175.5,69.5 L175.6,70.0 L175.6,70.5 L175.7,71.0 L175.7,71.5 L175.7,72.0 L175.8,72.5 L175.8,73.0 L175.8,73.5 L175.9,74.0 L175.9,74.5 L176.0,75.0 L176.0,75.5 L176.0,76.0 L176.1,76.5 L176.1,77.0 L176.2,77.5 L176.2,78.0 L176.3,78.5 L176.3,79.0 L176.3,79.5 L176.4,80.0 L176.4,80.5 L176.5,81.0 L176.5,81.5 L176.5,82.0 L176.6,82.5 L176.6,83.0 L176.7,83.5 L176.7,84.0 L176.7,84.5 L176.8,85.0 L176.8,85.5 L176.8,86.0 L176.9,86.5 L176.9,87.0 L177.0,87.5 L177.0,88.0 L177.1,88.5 L177.1,89.0 L177.2,89.5 L177.3,90.0 L177.3,90.5 L177.4,91.0 L177.4,91.5 L177.4,92.0 L177.5,92.5 L177.5,93.0 L177.5,93.5 L177.6,94.0 L177.6,94.5 L177.6,95.0 L177.6,95.5 L177.7,96.0 L177.7,96.5 L177.7,97.0 L177.7,97.5 L177.7,98.0 L177.8,98.5 L177.8,99.0 L177.8,99.5 L177.8,100.0 L177.8,100.5 L177.8,101.0 L177.8,101.5 L177.8,102.0 L177.8,102.5 L177.9,103.0 L177.9,103.5 L177.9,104.0 L177.9,104.5 L177.9,105.0 L177.9,105.5 L178.0,106.0 L178.0,106.5 L178.0,107.0 L178.0,107.5 L178.0,108.0 L178.0,108.5 L178.1,109.0 L178.1,109.5 L178.1,110.0 L178.1,110.5 L178.1,111.0 L178.2,111.5 L178.2,112.0 L178.2,112.5 L178.2,113.0 L178.3,113.5 L178.3,114.0 L178.3,114.5 L178.4,115.0 L178.4,115.5 L178.5,116.0 L178.5,116.5 L178.6,117.0 L178.6,117.5 L178.7,118.0 L178.8,118.5 L178.8,119.0 L178.9,119.5 L178.9,120.0 L179.0,120.5 L179.0,121.0 L179.0,121.5 L179.1,122.0 L179.1,122.5 L179.1,123.0 L179.2,123.5 L179.2,124.0 L179.2,124.5 L179.3,125.0 L179.3,125.5 L179.4,126.0 L179.4,126.5 L179.5,127.0 L179.5,127.5 L179.6,128.0 L179.6,128.5 L179.7,129.0 L179.7,129.5 L179.8,130.0 L179.8,130.5 L179.8,131.0 L179.9,131.5 L179.9,132.0 L179.9,132.5 L180.0,133.0 L180.0,133.5 L180.0,134.0 L180.1,134.5 L180.1,135.0 L180.1,135.5 L180.1,136.0 L180.2,136.5 L180.2,137.0 L180.2,137.5 L180.3,138.0 L180.3,138.5 L180.4,139.0 L180.4,139.5 L180.4,140.0 L180.5,140.5 L180.5,141.0 L180.5,141.5 L180.6,142.0 L180.6,142.5 L180.6,143.0 L180.6,143.5 L180.5,144.0 L180.5,144.5 L180.5,145.0 L180.5,145.5 L180.5,146.0 L180.5,146.5 L180.4,147.0 L180.4,147.5 L180.4,148.0 L180.4,148.5 L180.4,149.0 L180.4,149.5 L180.3,150.0 L180.3,150.5 L180.3,151.0 L180.3,151.5 L180.2,152.0 L180.2,152.5 L180.2,153.0 L180.2,153.5 L180.1,154.0 L180.1,154.5 L180.0,155.0 L180.0,155.5 L179.9,156.0 L179.9,156.5 L179.8,157.0 L179.7,157.5 L179.7,158.0 L179.6,158.5 L179.6,159.0 L179.5,159.5 L179.4,160.0 L179.4,160.5 L179.3,161.0 L179.2,161.5 L179.2,162.0 L179.1,162.5 L179.1,163.0 L179.0,163.5 L178.9,164.0 L178.9,164.5 L178.8,165.0 L178.7,165.5 L178.6,166.0 L178.6,166.5 L178.5,167.0 L178.4,167.5 L178.3,168.0 L178.2,168.5 L178.2,169.0 L178.1,169.5 L178.0,170.0 L177.9,170.5 L177.8,171.0 L177.8,171.5 L177.7,172.0 L177.6,172.5 L177.5,173.0 L177.4,173.5 L177.3,174.0 L177.2,174.5 L177.2,175.0 L177.1,175.5 L177.0,176.0 L176.9,176.5 L176.8,177.0 L176.8,177.5 L176.7,178.0 L176.6,178.5 L176.5,179.0 L176.5,179.5 L176.4,180.0 L176.3,180.5 L176.2,181.0 L176.2,181.5 L176.1,182.0 L176.1,182.5 L176.0,183.0 L175.9,183.5 L175.9,184.0 L175.8,184.5 L175.7,185.0 L175.7,185.5 L175.6,186.0 L175.6,186.5 L175.5,187.0 L175.5,187.5 L175.4,188.0 L175.4,188.5 L175.3,189.0 L175.3,189.5 L175.3,190.0 L175.2,190.5 L175.2,191.0 L175.1,191.5 L175.1,192.0 L175.1,192.5 L175.0,193.0 L175.0,193.5 L174.9,194.0 L174.9,194.5 L174.9,195.0 L174.8,195.5 L174.8,196.0 L174.7,196.5 L174.7,197.0 L174.6,197.5 L174.6,198.0 L174.6,198.5 L174.5,199.0 L174.5,199.5 L174.4,200.0 L174.4,200.5 L174.4,201.0 L174.3,201.5 L174.3,202.0 L174.3,202.5 L174.2,203.0 L174.2,203.5 L174.2,204.0 L174.2,204.5 L174.1,205.0 L174.1,205.5 L174.1,206.0 L174.1,206.5 L174.1,207.0 L174.1,207.5 L174.1,208.0 L174.0,208.5 L174.0,209.0 L174.0,209.5 L174.0,210.0 L174.0,210.5 L174.0,211.0 L174.0,211.5 L174.0,212.0 L174.0,212.5 L174.0,213.0 L174.0,213.0 L174.0,212.5 L174.0,212.0 L174.0,211.5 L174.0,211.0 L174.0,210.5 L174.0,210.0 L174.0,209.5 L174.0,209.0 L174.0,208.5 L173.9,208.0 L173.9,207.5 L173.9,207.0 L173.9,206.5 L173.9,206.0 L173.9,205.5 L173.9,205.0 L173.8,204.5 L173.8,204.0 L173.8,203.5 L173.8,203.0 L173.7,202.5 L173.7,202.0 L173.7,201.5 L173.6,201.0 L173.6,200.5 L173.6,200.0 L173.5,199.5 L173.5,199.0 L173.4,198.5 L173.4,198.0 L173.4,197.5 L173.3,197.0 L173.3,196.5 L173.2,196.0 L173.2,195.5 L173.1,195.0 L173.1,194.5 L173.1,194.0 L173.0,193.5 L173.0,193.0 L172.9,192.5 L172.9,192.0 L172.9,191.5 L172.8,191.0 L172.8,190.5 L172.7,190.0 L172.7,189.5 L172.7,189.0 L172.6,188.5 L172.6,188.0 L172.5,187.5 L172.5,187.0 L172.4,186.5 L172.4,186.0 L172.3,185.5 L172.3,185.0 L172.2,184.5 L172.1,184.0 L172.1,183.5 L172.0,183.0 L171.9,182.5 L171.9,182.0 L171.8,181.5 L171.8,181.0 L171.7,180.5 L171.6,180.0 L171.5,179.5 L171.5,179.0 L171.4,178.5 L171.3,178.0 L171.2,177.5 L171.2,177.0 L171.1,176.5 L171.0,176.0 L170.9,175.5 L170.8,175.0 L170.8,174.5 L170.7,174.0 L170.6,173.5 L170.5,173.0 L170.4,172.5 L170.3,172.0 L170.2,171.5 L170.2,171.0 L170.1,170.5 L170.0,170.0 L169.9,169.5 L169.8,169.0 L169.8,168.5 L169.7,168.0 L169.6,167.5 L169.5,167.0 L169.4,166.5 L169.4,166.0 L169.3,165.5 L169.2,165.0 L169.1,164.5 L169.1,164.0 L169.0,163.5 L168.9,163.0 L168.9,162.5 L168.8,162.0 L168.8,161.5 L168.7,161.0 L168.6,160.5 L168.6,160.0 L168.5,159.5 L168.4,159.0 L168.4,158.5 L168.3,158.0 L168.3,157.5 L168.2,157.0 L168.1,156.5 L168.1,156.0 L168.0,155.5 L168.0,155.0 L167.9,154.5 L167.9,154.0 L167.8,153.5 L167.8,153.0 L167.8,152.5 L167.8,152.0 L167.7,151.5 L167.7,151.0 L167.7,150.5 L167.7,150.0 L167.6,149.5 L167.6,149.0 L167.6,148.5 L167.6,148.0 L167.6,147.5 L167.6,147.0 L167.5,146.5 L167.5,146.0 L167.5,145.5 L167.5,145.0 L167.5,144.5 L167.5,144.0 L167.4,143.5 L167.4,143.0 L167.4,142.5 L167.4,142.0 L167.5,141.5 L167.5,141.0 L167.5,140.5 L167.6,140.0 L167.6,139.5 L167.6,139.0 L167.7,138.5 L167.7,138.0 L167.8,137.5 L167.8,137.0 L167.8,136.5 L167.9,136.0 L167.9,135.5 L167.9,135.0 L167.9,134.5 L168.0,134.0 L168.0,133.5 L168.0,133.0 L168.1,132.5 L168.1,132.0 L168.1,131.5 L168.2,131.0 L168.2,130.5 L168.2,130.0 L168.3,129.5 L168.3,129.0 L168.4,128.5 L168.4,128.0 L168.5,127.5 L168.5,127.0 L168.6,126.5 L168.6,126.0 L168.7,125.5 L168.7,125.0 L168.8,124.5 L168.8,124.0 L168.8,123.5 L168.9,123.0 L168.9,122.5 L168.9,122.0 L169.0,121.5 L169.0,121.0 L169.0,120.5 L169.1,120.0 L169.1,119.5 L169.2,119.0 L169.2,118.5 L169.3,118.0 L169.4,117.5 L169.4,117.0 L169.5,116.5 L169.5,116.0 L169.6,115.5 L169.6,115.0 L169.7,114.5 L169.7,114.0 L169.7,113.5 L169.8,113.0 L169.8,112.5 L169.8,112.0 L169.8,111.5 L169.9,111.0 L169.9,110.5 L169.9,110.0 L169.9,109.5 L169.9,109.0 L170.0,108.5 L170.0,108.0 L170.0,107.5 L170.0,107.0 L170.0,106.5 L170.0,106.0 L170.1,105.5 L170.1,105.0 L170.1,104.5 L170.1,104.0 L170.1,103.5 L170.1,103.0 L170.2,102.5 L170.2,102.0 L170.2,101.5 L170.2,101.0 L170.2,100.5 L170.2,100.0 L170.2,99.5 L170.2,99.0 L170.2,98.5 L170.3,98.0 L170.3,97.5 L170.3,97.0 L170.3,96.5 L170.3,96.0 L170.4,95.5 L170.4,95.0 L170.4,94.5 L170.4,94.0 L170.5,93.5 L170.5,93.0 L170.5,92.5 L170.6,92.0 L170.6,91.5 L170.6,91.0 L170.7,90.5 L170.7,90.0 L170.8,89.5 L170.9,89.0 L170.9,88.5 L171.0,88.0 L171.0,87.5 L171.1,87.0 L171.1,86.5 L171.2,86.0 L171.2,85.5 L171.2,85.0 L171.3,84.5 L171.3,84.0 L171.3,83.5 L171.4,83.0 L171.4,82.5 L171.5,82.0 L171.5,81.5 L171.5,81.0 L171.6,80.5 L171.6,80.0 L171.7,79.5 L171.7,79.0 L171.7,78.5 L171.8,78.0 L171.8,77.5 L171.9,77.0 L171.9,76.5 L172.0,76.0 L172.0,75.5 L172.0,75.0 L172.1,74.5 L172.1,74.0 L172.2,73.5 L172.2,73.0 L172.2,72.5 L172.3,72.0 L172.3,71.5 L172.3,71.0 L172.4,70.5 L172.4,70.0 L172.5,69.5 L172.5,69.0 L172.5,68.5 L172.6,68.0 L172.6,67.5 L172.7,67.0 L172.7,66.5 L172.7,66.0 L172.8,65.5 L172.8,65.0 L172.9,64.5 L172.9,64.0 L172.9,63.5 L172.9,63.0 L173.0,62.5 L173.0,62.0 L173.0,61.5 L173.0,61.0 L173.1,60.5 L173.1,60.0 L173.1,59.5 L173.1,59.0 L173.2,58.5 L173.2,58.0 L173.2,57.5 L173.2,57.0 L173.3,56.5 L173.3,56.0 L173.3,55.5 L173.4,55.0 L173.4,54.5 L173.4,54.0 L173.5,53.5 L173.5,53.0 L173.5,52.5 L173.6,52.0 L173.6,51.5 L173.6,51.0 L173.7,50.5 L173.7,50.0 L173.7,49.5 L173.8,49.0 L173.8,48.5 L173.8,48.0 L173.8,47.5 L173.9,47.0 L173.9,46.5 L173.9,46.0 L173.9,45.5 L173.9,45.0 L173.9,44.5 L173.9,44.0 L173.9,43.5 L174.0,43.0 L174.0,42.5 L174.0,42.0 L174.0,41.5 L174.0,41.0 L174.0,40.5 L174.0,40.0 L174.0,39.5 L174.0,39.0 L174.0,38.5 L174.0,38.0 L174.0,37.5 L174.0,37.0 L174.0,36.5Z" fill="#5CA032"/>
<path d="M174.0,51.5 L174.1,52.0 L174.1,52.5 L174.2,53.0 L174.2,53.5 L174.2,54.0 L174.3,54.5 L174.3,55.0 L174.3,55.5 L174.4,56.0 L174.4,56.5 L174.4,57.0 L174.4,57.5 L174.5,58.0 L174.5,58.5 L174.5,59.0 L174.5,59.5 L174.6,60.0 L174.6,60.5 L174.6,61.0 L174.6,61.5 L174.7,62.0 L174.7,62.5 L174.7,63.0 L174.7,63.5 L174.8,64.0 L174.8,64.5 L174.8,65.0 L174.9,65.5 L174.9,66.0 L174.9,66.5 L175.0,67.0 L175.0,67.5 L175.1,68.0 L175.1,68.5 L175.2,69.0 L175.2,69.5 L175.2,70.0 L175.3,70.5 L175.3,71.0 L175.3,71.5 L175.4,72.0 L175.4,72.5 L175.5,73.0 L175.5,73.5 L175.5,74.0 L175.6,74.5 L175.6,75.0 L175.7,75.5 L175.7,76.0 L175.7,76.5 L175.8,77.0 L175.8,77.5 L175.9,78.0 L175.9,78.5 L176.0,79.0 L176.0,79.5 L176.0,80.0 L176.1,80.5 L176.1,81.0 L176.2,81.5 L176.2,82.0 L176.2,82.5 L176.3,83.0 L176.3,83.5 L176.3,84.0 L176.4,84.5 L176.4,85.0 L176.5,85.5 L176.5,86.0 L176.5,86.5 L176.6,87.0 L176.6,87.5 L176.7,88.0 L176.7,88.5 L176.8,89.0 L176.9,89.5 L176.9,90.0 L177.0,90.5 L177.0,91.0 L177.1,91.5 L177.1,92.0 L177.1,92.5 L177.2,93.0 L177.2,93.5 L177.2,94.0 L177.2,94.5 L177.3,95.0 L177.3,95.5 L177.3,96.0 L177.3,96.5 L177.4,97.0 L177.4,97.5 L177.4,98.0 L177.4,98.5 L177.4,99.0 L177.4,99.5 L177.4,100.0 L177.5,100.5 L177.5,101.0 L177.5,101.5 L177.5,102.0 L177.5,102.5 L177.5,103.0 L177.5,103.5 L177.5,104.0 L177.6,104.5 L177.6,105.0 L177.6,105.5 L177.6,106.0 L177.6,106.5 L177.6,107.0 L177.7,107.5 L177.7,108.0 L177.7,108.5 L177.7,109.0 L177.7,109.5 L177.8,110.0 L177.8,110.5 L177.8,111.0 L177.8,111.5 L177.8,112.0 L177.9,112.5 L177.9,113.0 L177.9,113.5 L177.9,114.0 L178.0,114.5 L178.0,115.0 L178.1,115.5 L178.1,116.0 L178.2,116.5 L178.2,117.0 L178.3,117.5 L178.4,118.0 L178.4,118.5 L178.5,119.0 L178.5,119.5 L178.6,120.0 L178.6,120.5 L178.7,121.0 L178.7,121.5 L178.7,122.0 L178.8,122.5 L178.8,123.0 L178.8,123.5 L178.9,124.0 L178.9,124.5 L178.9,125.0 L179.0,125.5 L179.0,126.0 L179.1,126.5 L179.1,127.0 L179.2,127.5 L179.2,128.0 L179.3,128.5 L179.3,129.0 L179.4,129.5 L179.4,130.0 L179.4,130.5 L179.5,131.0 L179.5,131.5 L179.6,132.0 L179.6,132.5 L179.6,133.0 L179.7,133.5 L179.7,134.0 L179.7,134.5 L179.7,135.0 L179.8,135.5 L179.8,136.0 L179.8,136.5 L179.9,137.0 L179.9,137.5 L179.9,138.0 L180.0,138.5 L180.0,139.0 L180.1,139.5 L180.1,140.0 L180.1,140.5 L180.2,141.0 L180.2,141.5 L180.2,142.0 L180.2,142.5 L180.2,143.0 L180.2,143.5 L180.2,144.0 L180.2,144.5 L180.2,145.0 L180.1,145.5 L180.1,146.0 L180.1,146.5 L180.1,147.0 L180.1,147.5 L180.1,148.0 L180.0,148.5 L180.0,149.0 L180.0,149.5 L180.0,150.0 L180.0,150.5 L179.9,151.0 L179.9,151.5 L179.9,152.0 L179.9,152.5 L179.8,153.0 L179.8,153.5 L179.8,154.0 L179.7,154.5 L179.7,155.0 L179.6,155.5 L179.6,156.0 L179.5,156.5 L179.5,157.0 L179.4,157.5 L179.3,158.0 L179.3,158.5 L179.2,159.0 L179.1,159.5 L179.1,160.0 L179.0,160.5 L179.0,161.0 L178.9,161.5 L178.8,162.0 L178.8,162.5 L178.7,163.0 L178.6,163.5 L178.6,164.0 L178.5,164.5 L178.4,165.0 L178.4,165.5 L178.3,166.0 L178.2,166.5 L178.1,167.0 L178.1,167.5 L178.0,168.0 L177.9,168.5 L177.8,169.0 L177.7,169.5 L177.7,170.0 L177.6,170.5 L177.5,171.0 L177.4,171.5 L177.3,172.0 L177.2,172.5 L177.1,173.0 L177.1,173.5 L177.0,174.0 L176.9,174.5 L176.8,175.0 L176.7,175.5 L176.6,176.0 L176.6,176.5 L176.5,177.0 L176.4,177.5 L176.3,178.0 L176.3,178.5 L176.2,179.0 L176.1,179.5 L176.0,180.0 L176.0,180.5 L175.9,181.0 L175.8,181.5 L175.8,182.0 L175.7,182.5 L175.6,183.0 L175.6,183.5 L175.5,184.0 L175.5,184.5 L175.4,185.0 L175.3,185.5 L175.3,186.0 L175.2,186.5 L175.2,187.0 L175.1,187.5 L175.1,188.0 L175.0,188.5 L175.0,189.0 L174.9,189.5 L174.9,190.0 L174.9,190.5 L174.8,191.0 L174.8,191.5 L174.7,192.0 L174.7,192.5 L174.7,193.0 L174.6,193.5 L174.6,194.0 L174.5,194.5 L174.5,195.0 L174.5,195.5 L174.4,196.0 L174.4,196.5 L174.3,197.0 L174.3,197.5 L174.3,198.0 L174.2,198.5 L174.2,199.0 L174.1,199.5 L174.1,200.0 L174.1,200.5 L174.0,201.0 L174.0,201.0 L173.9,200.5 L173.9,200.0 L173.9,199.5 L173.8,199.0 L173.8,198.5 L173.7,198.0 L173.7,197.5 L173.7,197.0 L173.6,196.5 L173.6,196.0 L173.5,195.5 L173.5,195.0 L173.5,194.5 L173.4,194.0 L173.4,193.5 L173.3,193.0 L173.3,192.5 L173.3,192.0 L173.2,191.5 L173.2,191.0 L173.1,190.5 L173.1,190.0 L173.1,189.5 L173.0,189.0 L173.0,188.5 L172.9,188.0 L172.9,187.5 L172.8,187.0 L172.8,186.5 L172.7,186.0 L172.7,185.5 L172.6,185.0 L172.5,184.5 L172.5,184.0 L172.4,183.5 L172.4,183.0 L172.3,182.5 L172.2,182.0 L172.2,181.5 L172.1,181.0 L172.0,180.5 L172.0,180.0 L171.9,179.5 L171.8,179.0 L171.7,178.5 L171.7,178.0 L171.6,177.5 L171.5,177.0 L171.4,176.5 L171.4,176.0 L171.3,175.5 L171.2,175.0 L171.1,174.5 L171.0,174.0 L170.9,173.5 L170.9,173.0 L170.8,172.5 L170.7,172.0 L170.6,171.5 L170.5,171.0 L170.4,170.5 L170.3,170.0 L170.3,169.5 L170.2,169.0 L170.1,168.5 L170.0,168.0 L169.9,167.5 L169.9,167.0 L169.8,166.5 L169.7,166.0 L169.6,165.5 L169.6,165.0 L169.5,164.5 L169.4,164.0 L169.4,163.5 L169.3,163.0 L169.2,162.5 L169.2,162.0 L169.1,161.5 L169.0,161.0 L169.0,160.5 L168.9,160.0 L168.9,159.5 L168.8,159.0 L168.7,158.5 L168.7,158.0 L168.6,157.5 L168.5,157.0 L168.5,156.5 L168.4,156.0 L168.4,155.5 L168.3,155.0 L168.3,154.5 L168.2,154.0 L168.2,153.5 L168.2,153.0 L168.1,152.5 L168.1,152.0 L168.1,151.5 L168.1,151.0 L168.0,150.5 L168.0,150.0 L168.0,149.5 L168.0,149.0 L168.0,148.5 L167.9,148.0 L167.9,147.5 L167.9,147.0 L167.9,146.5 L167.9,146.0 L167.9,145.5 L167.8,145.0 L167.8,144.5 L167.8,144.0 L167.8,143.5 L167.8,143.0 L167.8,142.5 L167.8,142.0 L167.8,141.5 L167.8,141.0 L167.9,140.5 L167.9,140.0 L167.9,139.5 L168.0,139.0 L168.0,138.5 L168.1,138.0 L168.1,137.5 L168.1,137.0 L168.2,136.5 L168.2,136.0 L168.2,135.5 L168.3,135.0 L168.3,134.5 L168.3,134.0 L168.3,133.5 L168.4,133.0 L168.4,132.5 L168.4,132.0 L168.5,131.5 L168.5,131.0 L168.6,130.5 L168.6,130.0 L168.6,129.5 L168.7,129.0 L168.7,128.5 L168.8,128.0 L168.8,127.5 L168.9,127.0 L168.9,126.5 L169.0,126.0 L169.0,125.5 L169.1,125.0 L169.1,124.5 L169.1,124.0 L169.2,123.5 L169.2,123.0 L169.2,122.5 L169.3,122.0 L169.3,121.5 L169.3,121.0 L169.4,120.5 L169.4,120.0 L169.5,119.5 L169.5,119.0 L169.6,118.5 L169.6,118.0 L169.7,117.5 L169.8,117.0 L169.8,116.5 L169.9,116.0 L169.9,115.5 L170.0,115.0 L170.0,114.5 L170.1,114.0 L170.1,113.5 L170.1,113.0 L170.1,112.5 L170.2,112.0 L170.2,111.5 L170.2,111.0 L170.2,110.5 L170.2,110.0 L170.3,109.5 L170.3,109.0 L170.3,108.5 L170.3,108.0 L170.3,107.5 L170.4,107.0 L170.4,106.5 L170.4,106.0 L170.4,105.5 L170.4,105.0 L170.4,104.5 L170.5,104.0 L170.5,103.5 L170.5,103.0 L170.5,102.5 L170.5,102.0 L170.5,101.5 L170.5,101.0 L170.5,100.5 L170.6,100.0 L170.6,99.5 L170.6,99.0 L170.6,98.5 L170.6,98.0 L170.6,97.5 L170.6,97.0 L170.7,96.5 L170.7,96.0 L170.7,95.5 L170.7,95.0 L170.8,94.5 L170.8,94.0 L170.8,93.5 L170.8,93.0 L170.9,92.5 L170.9,92.0 L170.9,91.5 L171.0,91.0 L171.0,90.5 L171.1,90.0 L171.1,89.5 L171.2,89.0 L171.3,88.5 L171.3,88.0 L171.4,87.5 L171.4,87.0 L171.5,86.5 L171.5,86.0 L171.5,85.5 L171.6,85.0 L171.6,84.5 L171.7,84.0 L171.7,83.5 L171.7,83.0 L171.8,82.5 L171.8,82.0 L171.8,81.5 L171.9,81.0 L171.9,80.5 L172.0,80.0 L172.0,79.5 L172.0,79.0 L172.1,78.5 L172.1,78.0 L172.2,77.5 L172.2,77.0 L172.3,76.5 L172.3,76.0 L172.3,75.5 L172.4,75.0 L172.4,74.5 L172.5,74.0 L172.5,73.5 L172.5,73.0 L172.6,72.5 L172.6,72.0 L172.7,71.5 L172.7,71.0 L172.7,70.5 L172.8,70.0 L172.8,69.5 L172.8,69.0 L172.9,68.5 L172.9,68.0 L173.0,67.5 L173.0,67.0 L173.1,66.5 L173.1,66.0 L173.1,65.5 L173.2,65.0 L173.2,64.5 L173.2,64.0 L173.3,63.5 L173.3,63.0 L173.3,62.5 L173.3,62.0 L173.4,61.5 L173.4,61.0 L173.4,60.5 L173.4,60.0 L173.5,59.5 L173.5,59.0 L173.5,58.5 L173.5,58.0 L173.6,57.5 L173.6,57.0 L173.6,56.5 L173.6,56.0 L173.7,55.5 L173.7,55.0 L173.7,54.5 L173.8,54.0 L173.8,53.5 L173.8,53.0 L173.9,52.5 L173.9,52.0 L174.0,51.5Z" fill="#6CA646"/>
<line x1="77.9" y1="154.8" x2="77.9" y2="154.8" stroke="#000" stroke-width="1"/>
<line x1="77.9" y1="166.2" x2="77.9" y2="177.2" stroke="#000" stroke-width="1"/>
<rect x="75.60000000000001" y="154.8" width="4.6" height="11.399999999999977" fill="#fff" stroke="#000" stroke-width="1"/>
<line x1="75.60000000000001" y1="162.9" x2="80.2" y2="162.9" stroke="#000" stroke-width="1.1"/>
<circle cx="78" cy="87.88" r="1.6" fill="#000"/>
<circle cx="78" cy="132.55" r="1.6" fill="#000"/>
<line x1="126.05" y1="87.88" x2="126.05" y2="132.55" stroke="#000" stroke-width="1"/>
<line x1="126.05" y1="162.32999999999998" x2="126.05" y2="192.11" stroke="#000" stroke-width="1"/>
<rect x="123.75" y="132.55" width="4.6" height="29.779999999999973" fill="#fff" stroke="#000" stroke-width="1"/>
<line x1="123.75" y1="147.44" x2="128.35" y2="147.44" stroke="#000" stroke-width="1.1"/>
<line x1="173.9" y1="87.88" x2="173.9" y2="117.66" stroke="#000" stroke-width="1"/>
<line x1="173.9" y1="154.885" x2="173.9" y2="162.32999999999998" stroke="#000" stroke-width="1"/>
<rect x="171.65" y="117.66" width="4.5" height="37.224999999999994" fill="#fff" stroke="#000" stroke-width="1"/>
<line x1="171.65" y1="132.55" x2="176.15" y2="132.55" stroke="#000" stroke-width="1.1"/>
<text x="212" y="114.2" font-size="7.4" text-anchor="start" fill="#000" font-weight="normal" stroke="#000" stroke-width="0.1">Mutation</text>
<rect x="212.45" y="118.55" width="9.4" height="9.3" fill="#6AA8DE" stroke="#5A9EDA" stroke-width="0.5"/>
<text x="226" y="125.7" font-size="7.4" text-anchor="start" fill="#000" font-weight="normal" font-style="italic" stroke="#000" stroke-width="0.1">SF3B1</text>
<rect x="212.45" y="129.75" width="9.4" height="9.3" fill="#2F4A78" stroke="#193269" stroke-width="0.5"/>
<text x="226" y="136.9" font-size="7.4" text-anchor="start" fill="#000" font-weight="normal" font-style="italic" stroke="#000" stroke-width="0.1">SRSF2</text>
<rect x="212.45" y="140.95" width="9.4" height="9.3" fill="#6CA646" stroke="#5CA032" stroke-width="0.5"/>
<text x="226" y="148.1" font-size="7.4" text-anchor="start" fill="#000" font-weight="normal" font-style="italic" stroke="#000" stroke-width="0.1">U2AF1</text>
<path d="M289.6,25 L289.6,232.9 L443,232.9" fill="none" stroke="#000" stroke-width="1.3"/>
<line x1="286.4" y1="195.30" x2="289.6" y2="195.30" stroke="#000" stroke-width="1"/>
<text x="283.3" y="198.10000000000002" font-size="8.2" text-anchor="end" fill="#333" font-weight="normal" stroke="#333" stroke-width="0.15">0</text>
<line x1="286.4" y1="171.54" x2="289.6" y2="171.54" stroke="#000" stroke-width="1"/>
<text x="283.3" y="174.34000000000003" font-size="8.2" text-anchor="end" fill="#333" font-weight="normal" stroke="#333" stroke-width="0.15">2</text>
<line x1="286.4" y1="147.78" x2="289.6" y2="147.78" stroke="#000" stroke-width="1"/>
<text x="283.3" y="150.58" font-size="8.2" text-anchor="end" fill="#333" font-weight="normal" stroke="#333" stroke-width="0.15">4</text>
<line x1="286.4" y1="124.02" x2="289.6" y2="124.02" stroke="#000" stroke-width="1"/>
<text x="283.3" y="126.82000000000001" font-size="8.2" text-anchor="end" fill="#333" font-weight="normal" stroke="#333" stroke-width="0.15">6</text>
<line x1="286.4" y1="100.26" x2="289.6" y2="100.26" stroke="#000" stroke-width="1"/>
<text x="283.3" y="103.06" font-size="8.2" text-anchor="end" fill="#333" font-weight="normal" stroke="#333" stroke-width="0.15">8</text>
<line x1="286.4" y1="76.50" x2="289.6" y2="76.50" stroke="#000" stroke-width="1"/>
<text x="283.3" y="79.3" font-size="8.2" text-anchor="end" fill="#333" font-weight="normal" stroke="#333" stroke-width="0.15">10</text>
<line x1="286.4" y1="52.74" x2="289.6" y2="52.74" stroke="#000" stroke-width="1"/>
<text x="283.3" y="55.540000000000006" font-size="8.2" text-anchor="end" fill="#333" font-weight="normal" stroke="#333" stroke-width="0.15">12</text>
<line x1="330.7" y1="233" x2="330.7" y2="236" stroke="#000" stroke-width="1"/>
<text x="330.7" y="246.4" font-size="8.2" text-anchor="middle" fill="#333" font-weight="normal" stroke="#333" stroke-width="0.15">Mutated</text>
<line x1="399.4" y1="233" x2="399.4" y2="236" stroke="#000" stroke-width="1"/>
<text x="399.4" y="246.4" font-size="8.2" text-anchor="middle" fill="#333" font-weight="normal" stroke="#333" stroke-width="0.15">Wild type</text>
<text x="366.3" y="260" font-size="9.6" text-anchor="middle" fill="#000" font-weight="normal" stroke="#000" stroke-width="0.3" textLength="45.5" lengthAdjust="spacingAndGlyphs">Mutation group</text>
<text x="268.3" y="129" font-size="9.6" text-anchor="middle" fill="#000" font-weight="normal" stroke="#000" stroke-width="0.3" textLength="94" lengthAdjust="spacingAndGlyphs" transform="rotate(-90 268.3 129)">Mutations per patient (median)</text>
<path d="M330.7,74.5 L330.7,75.0 L330.7,75.5 L330.7,76.0 L330.7,76.5 L330.8,77.0 L330.8,77.5 L330.8,78.0 L330.8,78.5 L330.9,79.0 L330.9,79.5 L331.0,80.0 L331.1,80.5 L331.1,81.0 L331.2,81.5 L331.3,82.0 L331.4,82.5 L331.5,83.0 L331.7,83.5 L331.8,84.0 L332.0,84.5 L332.3,85.0 L332.6,85.5 L332.8,86.0 L333.1,86.5 L333.3,87.0 L333.6,87.5 L333.9,88.0 L334.2,88.5 L334.5,89.0 L334.7,89.5 L335.0,90.0 L335.3,90.5 L335.6,91.0 L335.8,91.5 L336.1,92.0 L336.4,92.5 L336.6,93.0 L336.9,93.5 L337.1,94.0 L337.4,94.5 L337.6,95.0 L337.8,95.5 L337.9,96.0 L338.1,96.5 L338.3,97.0 L338.4,97.5 L338.5,98.0 L338.6,98.5 L338.7,99.0 L338.8,99.5 L338.9,100.0 L338.9,100.5 L338.9,101.0 L338.9,101.5 L338.9,102.0 L338.9,102.5 L338.9,103.0 L338.9,103.5 L338.8,104.0 L338.7,104.5 L338.6,105.0 L338.5,105.5 L338.4,106.0 L338.2,106.5 L338.1,107.0 L337.9,107.5 L337.8,108.0 L337.6,108.5 L337.4,109.0 L337.2,109.5 L337.0,110.0 L336.7,110.5 L336.5,111.0 L336.3,111.5 L336.1,112.0 L336.0,112.5 L335.8,113.0 L335.6,113.5 L335.5,114.0 L335.4,114.5 L335.3,115.0 L335.2,115.5 L335.1,116.0 L335.0,116.5 L334.9,117.0 L334.9,117.5 L334.9,118.0 L335.0,118.5 L335.0,119.0 L335.1,119.5 L335.2,120.0 L335.3,120.5 L335.4,121.0 L335.7,121.5 L335.9,122.0 L336.2,122.5 L336.5,123.0 L336.9,123.5 L337.4,124.0 L337.9,124.5 L338.5,125.0 L339.1,125.5 L339.7,126.0 L340.3,126.5 L340.8,127.0 L341.3,127.5 L341.9,128.0 L342.5,128.5 L343.1,129.0 L343.9,129.5 L344.6,130.0 L345.5,130.5 L346.2,131.0 L346.9,131.5 L347.5,132.0 L348.1,132.5 L348.7,133.0 L349.2,133.5 L349.6,134.0 L349.9,134.5 L350.2,135.0 L350.5,135.5 L350.7,136.0 L350.9,136.5 L351.1,137.0 L351.3,137.5 L351.5,138.0 L351.7,138.5 L351.8,139.0 L351.9,139.5 L352.0,140.0 L352.1,140.5 L352.2,141.0 L352.2,141.5 L352.3,142.0 L352.4,142.5 L352.4,143.0 L352.5,143.5 L352.6,144.0 L352.7,144.5 L352.9,145.0 L353.2,145.5 L353.5,146.0 L353.9,146.5 L354.2,147.0 L354.5,147.5 L354.9,148.0 L355.3,148.5 L355.6,149.0 L356.0,149.5 L356.4,150.0 L356.8,150.5 L357.2,151.0 L357.6,151.5 L358.0,152.0 L358.4,152.5 L358.8,153.0 L359.2,153.5 L359.6,154.0 L360.0,154.5 L360.3,155.0 L360.6,155.5 L360.8,156.0 L361.0,156.5 L361.2,157.0 L361.4,157.5 L361.4,158.0 L361.4,158.5 L361.3,159.0 L361.2,159.5 L361.0,160.0 L360.7,160.5 L360.3,161.0 L359.7,161.5 L359.0,162.0 L358.2,162.5 L357.3,163.0 L356.5,163.5 L355.7,164.0 L355.0,164.5 L354.2,165.0 L353.5,165.5 L352.7,166.0 L352.0,166.5 L351.2,167.0 L350.4,167.5 L349.7,168.0 L348.9,168.5 L348.2,169.0 L347.4,169.5 L346.5,170.0 L345.7,170.5 L344.8,171.0 L344.0,171.5 L343.3,172.0 L342.6,172.5 L342.0,173.0 L341.4,173.5 L340.8,174.0 L340.2,174.5 L339.7,175.0 L339.2,175.5 L338.6,176.0 L338.1,176.5 L337.6,177.0 L337.2,177.5 L336.8,178.0 L336.4,178.5 L336.0,179.0 L335.6,179.5 L335.3,180.0 L335.0,180.5 L334.8,181.0 L334.5,181.5 L334.3,182.0 L334.1,182.5 L333.9,183.0 L333.7,183.5 L333.6,184.0 L333.4,184.5 L333.3,185.0 L333.2,185.5 L333.0,186.0 L332.9,186.5 L332.7,187.0 L332.6,187.5 L332.4,188.0 L332.3,188.5 L332.1,189.0 L332.0,189.5 L331.9,190.0 L331.8,190.5 L331.7,191.0 L331.6,191.5 L331.5,192.0 L331.4,192.5 L331.3,193.0 L331.3,193.5 L331.2,194.0 L331.2,194.5 L331.1,195.0 L331.1,195.5 L331.0,196.0 L331.0,196.5 L331.0,197.0 L330.9,197.5 L330.9,198.0 L330.9,198.5 L330.8,199.0 L330.8,199.5 L330.8,200.0 L330.8,200.5 L330.8,201.0 L330.7,201.5 L330.7,202.0 L330.7,202.5 L330.7,203.0 L330.7,203.5 L330.7,204.0 L330.7,204.5 L330.7,205.0 L330.7,205.0 L330.7,204.5 L330.7,204.0 L330.7,203.5 L330.7,203.0 L330.7,202.5 L330.7,202.0 L330.7,201.5 L330.6,201.0 L330.6,200.5 L330.6,200.0 L330.6,199.5 L330.6,199.0 L330.5,198.5 L330.5,198.0 L330.5,197.5 L330.4,197.0 L330.4,196.5 L330.4,196.0 L330.3,195.5 L330.3,195.0 L330.2,194.5 L330.2,194.0 L330.1,193.5 L330.1,193.0 L330.0,192.5 L329.9,192.0 L329.8,191.5 L329.7,191.0 L329.6,190.5 L329.5,190.0 L329.4,189.5 L329.3,189.0 L329.1,188.5 L329.0,188.0 L328.8,187.5 L328.7,187.0 L328.5,186.5 L328.4,186.0 L328.2,185.5 L328.1,185.0 L328.0,184.5 L327.8,184.0 L327.7,183.5 L327.5,183.0 L327.3,182.5 L327.1,182.0 L326.9,181.5 L326.6,181.0 L326.4,180.5 L326.1,180.0 L325.8,179.5 L325.4,179.0 L325.0,178.5 L324.6,178.0 L324.2,177.5 L323.8,177.0 L323.3,176.5 L322.8,176.0 L322.2,175.5 L321.7,175.0 L321.2,174.5 L320.6,174.0 L320.0,173.5 L319.4,173.0 L318.8,172.5 L318.1,172.0 L317.4,171.5 L316.6,171.0 L315.7,170.5 L314.9,170.0 L314.0,169.5 L313.2,169.0 L312.5,168.5 L311.7,168.0 L311.0,167.5 L310.2,167.0 L309.4,166.5 L308.7,166.0 L307.9,165.5 L307.2,165.0 L306.4,164.5 L305.7,164.0 L304.9,163.5 L304.1,163.0 L303.2,162.5 L302.4,162.0 L301.7,161.5 L301.1,161.0 L300.7,160.5 L300.4,160.0 L300.2,159.5 L300.1,159.0 L300.0,158.5 L300.0,158.0 L300.0,157.5 L300.2,157.0 L300.4,156.5 L300.6,156.0 L300.8,155.5 L301.1,155.0 L301.4,154.5 L301.8,154.0 L302.2,153.5 L302.6,153.0 L303.0,152.5 L303.4,152.0 L303.8,151.5 L304.2,151.0 L304.6,150.5 L305.0,150.0 L305.4,149.5 L305.8,149.0 L306.1,148.5 L306.5,148.0 L306.9,147.5 L307.2,147.0 L307.5,146.5 L307.9,146.0 L308.2,145.5 L308.5,145.0 L308.7,144.5 L308.8,144.0 L308.9,143.5 L309.0,143.0 L309.0,142.5 L309.1,142.0 L309.2,141.5 L309.2,141.0 L309.3,140.5 L309.4,140.0 L309.5,139.5 L309.6,139.0 L309.7,138.5 L309.9,138.0 L310.1,137.5 L310.3,137.0 L310.5,136.5 L310.7,136.0 L310.9,135.5 L311.2,135.0 L311.5,134.5 L311.8,134.0 L312.2,133.5 L312.7,133.0 L313.3,132.5 L313.9,132.0 L314.5,131.5 L315.2,131.0 L315.9,130.5 L316.8,130.0 L317.5,129.5 L318.3,129.0 L318.9,128.5 L319.5,128.0 L320.1,127.5 L320.6,127.0 L321.1,126.5 L321.7,126.0 L322.3,125.5 L322.9,125.0 L323.5,124.5 L324.0,124.0 L324.5,123.5 L324.9,123.0 L325.2,122.5 L325.5,122.0 L325.7,121.5 L326.0,121.0 L326.1,120.5 L326.2,120.0 L326.3,119.5 L326.4,119.0 L326.4,118.5 L326.5,118.0 L326.5,117.5 L326.5,117.0 L326.4,116.5 L326.3,116.0 L326.2,115.5 L326.1,115.0 L326.0,114.5 L325.9,114.0 L325.8,113.5 L325.6,113.0 L325.4,112.5 L325.3,112.0 L325.1,111.5 L324.9,111.0 L324.7,110.5 L324.4,110.0 L324.2,109.5 L324.0,109.0 L323.8,108.5 L323.6,108.0 L323.5,107.5 L323.3,107.0 L323.2,106.5 L323.0,106.0 L322.9,105.5 L322.8,105.0 L322.7,104.5 L322.6,104.0 L322.5,103.5 L322.5,103.0 L322.5,102.5 L322.5,102.0 L322.5,101.5 L322.5,101.0 L322.5,100.5 L322.5,100.0 L322.6,99.5 L322.7,99.0 L322.8,98.5 L322.9,98.0 L323.0,97.5 L323.1,97.0 L323.3,96.5 L323.5,96.0 L323.6,95.5 L323.8,95.0 L324.0,94.5 L324.3,94.0 L324.5,93.5 L324.8,93.0 L325.0,92.5 L325.3,92.0 L325.6,91.5 L325.8,91.0 L326.1,90.5 L326.4,90.0 L326.7,89.5 L326.9,89.0 L327.2,88.5 L327.5,88.0 L327.8,87.5 L328.1,87.0 L328.3,86.5 L328.6,86.0 L328.8,85.5 L329.1,85.0 L329.4,84.5 L329.6,84.0 L329.7,83.5 L329.9,83.0 L330.0,82.5 L330.1,82.0 L330.2,81.5 L330.3,81.0 L330.3,80.5 L330.4,80.0 L330.5,79.5 L330.5,79.0 L330.6,78.5 L330.6,78.0 L330.6,77.5 L330.6,77.0 L330.7,76.5 L330.7,76.0 L330.7,75.5 L330.7,75.0 L330.7,74.5Z" fill="#5A9EDA"/>
<path d="M330.7,80.5 L330.8,81.0 L330.9,81.5 L331.0,82.0 L331.1,82.5 L331.2,83.0 L331.3,83.5 L331.5,84.0 L331.7,84.5 L331.9,85.0 L332.2,85.5 L332.5,86.0 L332.7,86.5 L333.0,87.0 L333.3,87.5 L333.5,88.0 L333.8,88.5 L334.1,89.0 L334.4,89.5 L334.7,90.0 L334.9,90.5 L335.2,91.0 L335.5,91.5 L335.8,92.0 L336.0,92.5 L336.3,93.0 L336.5,93.5 L336.8,94.0 L337.0,94.5 L337.2,95.0 L337.4,95.5 L337.6,96.0 L337.8,96.5 L337.9,97.0 L338.1,97.5 L338.2,98.0 L338.3,98.5 L338.4,99.0 L338.4,99.5 L338.5,100.0 L338.5,100.5 L338.6,101.0 L338.6,101.5 L338.6,102.0 L338.6,102.5 L338.6,103.0 L338.5,103.5 L338.5,104.0 L338.4,104.5 L338.2,105.0 L338.1,105.5 L338.0,106.0 L337.9,106.5 L337.7,107.0 L337.6,107.5 L337.4,108.0 L337.2,108.5 L337.0,109.0 L336.8,109.5 L336.6,110.0 L336.4,110.5 L336.2,111.0 L336.0,111.5 L335.8,112.0 L335.6,112.5 L335.4,113.0 L335.3,113.5 L335.2,114.0 L335.0,114.5 L334.9,115.0 L334.8,115.5 L334.7,116.0 L334.6,116.5 L334.6,117.0 L334.6,117.5 L334.6,118.0 L334.6,118.5 L334.7,119.0 L334.8,119.5 L334.8,120.0 L334.9,120.5 L335.1,121.0 L335.3,121.5 L335.6,122.0 L335.9,122.5 L336.2,123.0 L336.6,123.5 L337.0,124.0 L337.6,124.5 L338.2,125.0 L338.8,125.5 L339.4,126.0 L339.9,126.5 L340.4,127.0 L341.0,127.5 L341.6,128.0 L342.2,128.5 L342.8,129.0 L343.5,129.5 L344.3,130.0 L345.1,130.5 L345.9,131.0 L346.6,131.5 L347.2,132.0 L347.8,132.5 L348.4,133.0 L348.8,133.5 L349.3,134.0 L349.6,134.5 L349.9,135.0 L350.1,135.5 L350.3,136.0 L350.6,136.5 L350.8,137.0 L351.0,137.5 L351.2,138.0 L351.3,138.5 L351.5,139.0 L351.6,139.5 L351.6,140.0 L351.7,140.5 L351.8,141.0 L351.9,141.5 L352.0,142.0 L352.0,142.5 L352.1,143.0 L352.2,143.5 L352.2,144.0 L352.4,144.5 L352.5,145.0 L352.8,145.5 L353.1,146.0 L353.5,146.5 L353.9,147.0 L354.2,147.5 L354.5,148.0 L354.9,148.5 L355.3,149.0 L355.7,149.5 L356.1,150.0 L356.4,150.5 L356.8,151.0 L357.2,151.5 L357.6,152.0 L358.0,152.5 L358.4,153.0 L358.8,153.5 L359.2,154.0 L359.6,154.5 L360.0,155.0 L360.3,155.5 L360.5,156.0 L360.7,156.5 L360.9,157.0 L361.0,157.5 L361.1,158.0 L361.0,158.5 L360.9,159.0 L360.8,159.5 L360.7,160.0 L360.4,160.5 L359.9,161.0 L359.4,161.5 L358.7,162.0 L357.8,162.5 L356.9,163.0 L356.1,163.5 L355.4,164.0 L354.6,164.5 L353.9,165.0 L353.1,165.5 L352.4,166.0 L351.6,166.5 L350.8,167.0 L350.1,167.5 L349.3,168.0 L348.6,168.5 L347.8,169.0 L347.0,169.5 L346.2,170.0 L345.3,170.5 L344.5,171.0 L343.7,171.5 L343.0,172.0 L342.3,172.5 L341.6,173.0 L341.0,173.5 L340.5,174.0 L339.9,174.5 L339.4,175.0 L338.8,175.5 L338.3,176.0 L337.8,176.5 L337.3,177.0 L336.8,177.5 L336.4,178.0 L336.0,178.5 L335.6,179.0 L335.3,179.5 L335.0,180.0 L334.7,180.5 L334.4,181.0 L334.2,181.5 L333.9,182.0 L333.7,182.5 L333.5,183.0 L333.4,183.5 L333.2,184.0 L333.1,184.5 L332.9,185.0 L332.8,185.5 L332.7,186.0 L332.6,186.5 L332.4,187.0 L332.2,187.5 L332.1,188.0 L331.9,188.5 L331.8,189.0 L331.6,189.5 L331.5,190.0 L331.4,190.5 L331.3,191.0 L331.2,191.5 L331.2,192.0 L331.1,192.5 L331.0,193.0 L330.9,193.5 L330.9,194.0 L330.8,194.5 L330.8,195.0 L330.7,195.5 L330.7,195.5 L330.6,195.0 L330.6,194.5 L330.5,194.0 L330.5,193.5 L330.4,193.0 L330.3,192.5 L330.2,192.0 L330.2,191.5 L330.1,191.0 L330.0,190.5 L329.9,190.0 L329.8,189.5 L329.6,189.0 L329.5,188.5 L329.3,188.0 L329.2,187.5 L329.0,187.0 L328.8,186.5 L328.7,186.0 L328.6,185.5 L328.5,185.0 L328.3,184.5 L328.2,184.0 L328.0,183.5 L327.9,183.0 L327.7,182.5 L327.5,182.0 L327.2,181.5 L327.0,181.0 L326.7,180.5 L326.4,180.0 L326.1,179.5 L325.8,179.0 L325.4,178.5 L325.0,178.0 L324.6,177.5 L324.1,177.0 L323.6,176.5 L323.1,176.0 L322.6,175.5 L322.0,175.0 L321.5,174.5 L320.9,174.0 L320.4,173.5 L319.8,173.0 L319.1,172.5 L318.4,172.0 L317.7,171.5 L316.9,171.0 L316.1,170.5 L315.2,170.0 L314.4,169.5 L313.6,169.0 L312.8,168.5 L312.1,168.0 L311.3,167.5 L310.6,167.0 L309.8,166.5 L309.0,166.0 L308.3,165.5 L307.5,165.0 L306.8,164.5 L306.0,164.0 L305.3,163.5 L304.5,163.0 L303.6,162.5 L302.7,162.0 L302.0,161.5 L301.5,161.0 L301.0,160.5 L300.7,160.0 L300.6,159.5 L300.5,159.0 L300.4,158.5 L300.3,158.0 L300.4,157.5 L300.5,157.0 L300.7,156.5 L300.9,156.0 L301.1,155.5 L301.4,155.0 L301.8,154.5 L302.2,154.0 L302.6,153.5 L303.0,153.0 L303.4,152.5 L303.8,152.0 L304.2,151.5 L304.6,151.0 L305.0,150.5 L305.3,150.0 L305.7,149.5 L306.1,149.0 L306.5,148.5 L306.9,148.0 L307.2,147.5 L307.5,147.0 L307.9,146.5 L308.3,146.0 L308.6,145.5 L308.9,145.0 L309.0,144.5 L309.2,144.0 L309.2,143.5 L309.3,143.0 L309.4,142.5 L309.4,142.0 L309.5,141.5 L309.6,141.0 L309.7,140.5 L309.8,140.0 L309.8,139.5 L309.9,139.0 L310.1,138.5 L310.2,138.0 L310.4,137.5 L310.6,137.0 L310.8,136.5 L311.1,136.0 L311.3,135.5 L311.5,135.0 L311.8,134.5 L312.1,134.0 L312.6,133.5 L313.0,133.0 L313.6,132.5 L314.2,132.0 L314.8,131.5 L315.5,131.0 L316.3,130.5 L317.1,130.0 L317.9,129.5 L318.6,129.0 L319.2,128.5 L319.8,128.0 L320.4,127.5 L321.0,127.0 L321.5,126.5 L322.0,126.0 L322.6,125.5 L323.2,125.0 L323.8,124.5 L324.4,124.0 L324.8,123.5 L325.2,123.0 L325.5,122.5 L325.8,122.0 L326.1,121.5 L326.3,121.0 L326.5,120.5 L326.6,120.0 L326.6,119.5 L326.7,119.0 L326.8,118.5 L326.8,118.0 L326.8,117.5 L326.8,117.0 L326.8,116.5 L326.7,116.0 L326.6,115.5 L326.5,115.0 L326.4,114.5 L326.2,114.0 L326.1,113.5 L326.0,113.0 L325.8,112.5 L325.6,112.0 L325.4,111.5 L325.2,111.0 L325.0,110.5 L324.8,110.0 L324.6,109.5 L324.4,109.0 L324.2,108.5 L324.0,108.0 L323.8,107.5 L323.7,107.0 L323.5,106.5 L323.4,106.0 L323.3,105.5 L323.2,105.0 L323.0,104.5 L322.9,104.0 L322.9,103.5 L322.8,103.0 L322.8,102.5 L322.8,102.0 L322.8,101.5 L322.8,101.0 L322.9,100.5 L322.9,100.0 L323.0,99.5 L323.0,99.0 L323.1,98.5 L323.2,98.0 L323.3,97.5 L323.5,97.0 L323.6,96.5 L323.8,96.0 L324.0,95.5 L324.2,95.0 L324.4,94.5 L324.6,94.0 L324.9,93.5 L325.1,93.0 L325.4,92.5 L325.6,92.0 L325.9,91.5 L326.2,91.0 L326.5,90.5 L326.7,90.0 L327.0,89.5 L327.3,89.0 L327.6,88.5 L327.9,88.0 L328.1,87.5 L328.4,87.0 L328.7,86.5 L328.9,86.0 L329.2,85.5 L329.5,85.0 L329.7,84.5 L329.9,84.0 L330.1,83.5 L330.2,83.0 L330.3,82.5 L330.4,82.0 L330.5,81.5 L330.6,81.0 L330.7,80.5Z" fill="#6AA8DE"/>
<path d="M399.4,35.0 L399.4,35.5 L399.4,36.0 L399.4,36.5 L399.4,37.0 L399.4,37.5 L399.4,38.0 L399.4,38.5 L399.4,39.0 L399.4,39.5 L399.4,40.0 L399.5,40.5 L399.5,41.0 L399.5,41.5 L399.5,42.0 L399.5,42.5 L399.5,43.0 L399.5,43.5 L399.5,44.0 L399.6,44.5 L399.6,45.0 L399.6,45.5 L399.6,46.0 L399.7,46.5 L399.7,47.0 L399.7,47.5 L399.7,48.0 L399.8,48.5 L399.8,49.0 L399.8,49.5 L399.8,50.0 L399.8,50.5 L399.9,51.0 L399.9,51.5 L399.9,52.0 L399.9,52.5 L399.9,53.0 L400.0,53.5 L400.0,54.0 L400.0,54.5 L400.0,55.0 L400.1,55.5 L400.1,56.0 L400.1,56.5 L400.1,57.0 L400.1,57.5 L400.2,58.0 L400.2,58.5 L400.2,59.0 L400.2,59.5 L400.2,60.0 L400.3,60.5 L400.3,61.0 L400.3,61.5 L400.3,62.0 L400.3,62.5 L400.3,63.0 L400.4,63.5 L400.4,64.0 L400.4,64.5 L400.4,65.0 L400.4,65.5 L400.4,66.0 L400.4,66.5 L400.5,67.0 L400.5,67.5 L400.5,68.0 L400.5,68.5 L400.5,69.0 L400.6,69.5 L400.6,70.0 L400.6,70.5 L400.6,71.0 L400.6,71.5 L400.7,72.0 L400.7,72.5 L400.7,73.0 L400.7,73.5 L400.8,74.0 L400.8,74.5 L400.8,75.0 L400.9,75.5 L400.9,76.0 L400.9,76.5 L401.0,77.0 L401.0,77.5 L401.0,78.0 L401.1,78.5 L401.1,79.0 L401.1,79.5 L401.2,80.0 L401.2,80.5 L401.2,81.0 L401.3,81.5 L401.3,82.0 L401.3,82.5 L401.3,83.0 L401.4,83.5 L401.4,84.0 L401.4,84.5 L401.4,85.0 L401.5,85.5 L401.5,86.0 L401.5,86.5 L401.6,87.0 L401.6,87.5 L401.7,88.0 L401.8,88.5 L401.8,89.0 L401.9,89.5 L402.0,90.0 L402.1,90.5 L402.2,91.0 L402.3,91.5 L402.4,92.0 L402.5,92.5 L402.5,93.0 L402.6,93.5 L402.7,94.0 L402.9,94.5 L403.0,95.0 L403.1,95.5 L403.2,96.0 L403.3,96.5 L403.4,97.0 L403.5,97.5 L403.6,98.0 L403.7,98.5 L403.8,99.0 L403.9,99.5 L404.0,100.0 L404.1,100.5 L404.2,101.0 L404.4,101.5 L404.5,102.0 L404.6,102.5 L404.7,103.0 L404.8,103.5 L405.0,104.0 L405.1,104.5 L405.2,105.0 L405.4,105.5 L405.5,106.0 L405.7,106.5 L405.9,107.0 L406.0,107.5 L406.2,108.0 L406.4,108.5 L406.6,109.0 L406.9,109.5 L407.2,110.0 L407.4,110.5 L407.7,111.0 L408.0,111.5 L408.3,112.0 L408.6,112.5 L408.9,113.0 L409.2,113.5 L409.5,114.0 L409.9,114.5 L410.2,115.0 L410.5,115.5 L410.9,116.0 L411.2,116.5 L411.5,117.0 L411.9,117.5 L412.2,118.0 L412.5,118.5 L412.8,119.0 L413.2,119.5 L413.5,120.0 L413.8,120.5 L414.1,121.0 L414.4,121.5 L414.7,122.0 L415.1,122.5 L415.4,123.0 L415.8,123.5 L416.1,124.0 L416.5,124.5 L416.9,125.0 L417.2,125.5 L417.5,126.0 L417.8,126.5 L418.1,127.0 L418.4,127.5 L418.7,128.0 L419.0,128.5 L419.2,129.0 L419.5,129.5 L419.8,130.0 L420.1,130.5 L420.3,131.0 L420.5,131.5 L420.6,132.0 L420.8,132.5 L420.9,133.0 L421.0,133.5 L421.2,134.0 L421.3,134.5 L421.4,135.0 L421.5,135.5 L421.6,136.0 L421.7,136.5 L421.8,137.0 L421.8,137.5 L421.9,138.0 L421.9,138.5 L422.0,139.0 L422.0,139.5 L422.0,140.0 L422.0,140.5 L422.0,141.0 L422.0,141.5 L422.0,142.0 L421.9,142.5 L421.9,143.0 L421.8,143.5 L421.6,144.0 L421.4,144.5 L421.2,145.0 L421.0,145.5 L420.9,146.0 L420.8,146.5 L420.6,147.0 L420.5,147.5 L420.3,148.0 L420.2,148.5 L420.0,149.0 L419.7,149.5 L419.5,150.0 L419.3,150.5 L419.1,151.0 L418.8,151.5 L418.6,152.0 L418.3,152.5 L418.1,153.0 L417.8,153.5 L417.5,154.0 L417.2,154.5 L416.9,155.0 L416.6,155.5 L416.3,156.0 L415.9,156.5 L415.6,157.0 L415.4,157.5 L415.1,158.0 L414.8,158.5 L414.5,159.0 L414.2,159.5 L413.9,160.0 L413.6,160.5 L413.3,161.0 L413.0,161.5 L412.7,162.0 L412.4,162.5 L412.2,163.0 L411.9,163.5 L411.6,164.0 L411.4,164.5 L411.2,165.0 L410.9,165.5 L410.7,166.0 L410.5,166.5 L410.4,167.0 L410.2,167.5 L410.0,168.0 L409.8,168.5 L409.7,169.0 L409.5,169.5 L409.3,170.0 L409.1,170.5 L409.0,171.0 L408.8,171.5 L408.7,172.0 L408.5,172.5 L408.3,173.0 L408.2,173.5 L408.0,174.0 L407.9,174.5 L407.7,175.0 L407.6,175.5 L407.4,176.0 L407.2,176.5 L407.0,177.0 L406.9,177.5 L406.7,178.0 L406.5,178.5 L406.3,179.0 L406.1,179.5 L406.0,180.0 L405.8,180.5 L405.6,181.0 L405.5,181.5 L405.3,182.0 L405.1,182.5 L405.0,183.0 L404.8,183.5 L404.7,184.0 L404.6,184.5 L404.4,185.0 L404.3,185.5 L404.1,186.0 L404.0,186.5 L403.8,187.0 L403.7,187.5 L403.6,188.0 L403.4,188.5 L403.3,189.0 L403.2,189.5 L403.0,190.0 L402.9,190.5 L402.8,191.0 L402.7,191.5 L402.5,192.0 L402.4,192.5 L402.3,193.0 L402.3,193.5 L402.2,194.0 L402.1,194.5 L402.0,195.0 L401.9,195.5 L401.9,196.0 L401.8,196.5 L401.7,197.0 L401.7,197.5 L401.6,198.0 L401.5,198.5 L401.5,199.0 L401.4,199.5 L401.3,200.0 L401.3,200.5 L401.2,201.0 L401.1,201.5 L401.1,202.0 L401.0,202.5 L400.9,203.0 L400.9,203.5 L400.8,204.0 L400.8,204.5 L400.7,205.0 L400.6,205.5 L400.6,206.0 L400.5,206.5 L400.4,207.0 L400.4,207.5 L400.3,208.0 L400.3,208.5 L400.2,209.0 L400.2,209.5 L400.1,210.0 L400.1,210.5 L400.0,211.0 L400.0,211.5 L399.9,212.0 L399.9,212.5 L399.8,213.0 L399.8,213.5 L399.8,214.0 L399.7,214.5 L399.7,215.0 L399.7,215.5 L399.6,216.0 L399.6,216.5 L399.6,217.0 L399.6,217.5 L399.5,218.0 L399.5,218.5 L399.5,219.0 L399.5,219.5 L399.5,220.0 L399.5,220.5 L399.4,221.0 L399.4,221.5 L399.4,222.0 L399.4,222.5 L399.4,223.0 L399.4,223.5 L399.4,224.0 L399.4,224.5 L399.4,225.0 L399.4,225.0 L399.4,224.5 L399.4,224.0 L399.4,223.5 L399.4,223.0 L399.4,222.5 L399.4,222.0 L399.4,221.5 L399.3,221.0 L399.3,220.5 L399.3,220.0 L399.3,219.5 L399.3,219.0 L399.3,218.5 L399.3,218.0 L399.2,217.5 L399.2,217.0 L399.2,216.5 L399.2,216.0 L399.1,215.5 L399.1,215.0 L399.1,214.5 L399.0,214.0 L399.0,213.5 L399.0,213.0 L398.9,212.5 L398.9,212.0 L398.8,211.5 L398.8,211.0 L398.7,210.5 L398.7,210.0 L398.6,209.5 L398.6,209.0 L398.5,208.5 L398.5,208.0 L398.4,207.5 L398.4,207.0 L398.3,206.5 L398.2,206.0 L398.2,205.5 L398.1,205.0 L398.0,204.5 L398.0,204.0 L397.9,203.5 L397.9,203.0 L397.8,202.5 L397.7,202.0 L397.7,201.5 L397.6,201.0 L397.5,200.5 L397.5,200.0 L397.4,199.5 L397.3,199.0 L397.3,198.5 L397.2,198.0 L397.1,197.5 L397.1,197.0 L397.0,196.5 L396.9,196.0 L396.9,195.5 L396.8,195.0 L396.7,194.5 L396.6,194.0 L396.5,193.5 L396.5,193.0 L396.4,192.5 L396.3,192.0 L396.1,191.5 L396.0,191.0 L395.9,190.5 L395.8,190.0 L395.6,189.5 L395.5,189.0 L395.4,188.5 L395.2,188.0 L395.1,187.5 L395.0,187.0 L394.8,186.5 L394.7,186.0 L394.5,185.5 L394.4,185.0 L394.2,184.5 L394.1,184.0 L394.0,183.5 L393.8,183.0 L393.7,182.5 L393.5,182.0 L393.3,181.5 L393.2,181.0 L393.0,180.5 L392.8,180.0 L392.7,179.5 L392.5,179.0 L392.3,178.5 L392.1,178.0 L391.9,177.5 L391.8,177.0 L391.6,176.5 L391.4,176.0 L391.2,175.5 L391.1,175.0 L390.9,174.5 L390.8,174.0 L390.6,173.5 L390.5,173.0 L390.3,172.5 L390.1,172.0 L390.0,171.5 L389.8,171.0 L389.7,170.5 L389.5,170.0 L389.3,169.5 L389.1,169.0 L389.0,168.5 L388.8,168.0 L388.6,167.5 L388.4,167.0 L388.3,166.5 L388.1,166.0 L387.9,165.5 L387.6,165.0 L387.4,164.5 L387.2,164.0 L386.9,163.5 L386.6,163.0 L386.4,162.5 L386.1,162.0 L385.8,161.5 L385.5,161.0 L385.2,160.5 L384.9,160.0 L384.6,159.5 L384.3,159.0 L384.0,158.5 L383.7,158.0 L383.4,157.5 L383.2,157.0 L382.9,156.5 L382.5,156.0 L382.2,155.5 L381.9,155.0 L381.6,154.5 L381.3,154.0 L381.0,153.5 L380.7,153.0 L380.5,152.5 L380.2,152.0 L380.0,151.5 L379.7,151.0 L379.5,150.5 L379.3,150.0 L379.1,149.5 L378.8,149.0 L378.6,148.5 L378.5,148.0 L378.3,147.5 L378.2,147.0 L378.0,146.5 L377.9,146.0 L377.8,145.5 L377.6,145.0 L377.4,144.5 L377.2,144.0 L377.0,143.5 L376.9,143.0 L376.9,142.5 L376.8,142.0 L376.8,141.5 L376.8,141.0 L376.8,140.5 L376.8,140.0 L376.8,139.5 L376.8,139.0 L376.9,138.5 L376.9,138.0 L377.0,137.5 L377.0,137.0 L377.1,136.5 L377.2,136.0 L377.3,135.5 L377.4,135.0 L377.5,134.5 L377.6,134.0 L377.8,133.5 L377.9,133.0 L378.0,132.5 L378.2,132.0 L378.3,131.5 L378.5,131.0 L378.7,130.5 L379.0,130.0 L379.3,129.5 L379.6,129.0 L379.8,128.5 L380.1,128.0 L380.4,127.5 L380.7,127.0 L381.0,126.5 L381.3,126.0 L381.6,125.5 L381.9,125.0 L382.3,124.5 L382.7,124.0 L383.0,123.5 L383.4,123.0 L383.7,122.5 L384.1,122.0 L384.4,121.5 L384.7,121.0 L385.0,120.5 L385.3,120.0 L385.6,119.5 L386.0,119.0 L386.3,118.5 L386.6,118.0 L386.9,117.5 L387.3,117.0 L387.6,116.5 L387.9,116.0 L388.3,115.5 L388.6,115.0 L388.9,114.5 L389.3,114.0 L389.6,113.5 L389.9,113.0 L390.2,112.5 L390.5,112.0 L390.8,111.5 L391.1,111.0 L391.4,110.5 L391.6,110.0 L391.9,109.5 L392.2,109.0 L392.4,108.5 L392.6,108.0 L392.8,107.5 L392.9,107.0 L393.1,106.5 L393.3,106.0 L393.4,105.5 L393.6,105.0 L393.7,104.5 L393.8,104.0 L394.0,103.5 L394.1,103.0 L394.2,102.5 L394.3,102.0 L394.4,101.5 L394.6,101.0 L394.7,100.5 L394.8,100.0 L394.9,99.5 L395.0,99.0 L395.1,98.5 L395.2,98.0 L395.3,97.5 L395.4,97.0 L395.5,96.5 L395.6,96.0 L395.7,95.5 L395.8,95.0 L395.9,94.5 L396.1,94.0 L396.2,93.5 L396.3,93.0 L396.3,92.5 L396.4,92.0 L396.5,91.5 L396.6,91.0 L396.7,90.5 L396.8,90.0 L396.9,89.5 L397.0,89.0 L397.0,88.5 L397.1,88.0 L397.2,87.5 L397.2,87.0 L397.3,86.5 L397.3,86.0 L397.3,85.5 L397.4,85.0 L397.4,84.5 L397.4,84.0 L397.4,83.5 L397.5,83.0 L397.5,82.5 L397.5,82.0 L397.5,81.5 L397.6,81.0 L397.6,80.5 L397.6,80.0 L397.7,79.5 L397.7,79.0 L397.7,78.5 L397.8,78.0 L397.8,77.5 L397.8,77.0 L397.9,76.5 L397.9,76.0 L397.9,75.5 L398.0,75.0 L398.0,74.5 L398.0,74.0 L398.1,73.5 L398.1,73.0 L398.1,72.5 L398.1,72.0 L398.2,71.5 L398.2,71.0 L398.2,70.5 L398.2,70.0 L398.2,69.5 L398.3,69.0 L398.3,68.5 L398.3,68.0 L398.3,67.5 L398.3,67.0 L398.4,66.5 L398.4,66.0 L398.4,65.5 L398.4,65.0 L398.4,64.5 L398.4,64.0 L398.4,63.5 L398.5,63.0 L398.5,62.5 L398.5,62.0 L398.5,61.5 L398.5,61.0 L398.5,60.5 L398.6,60.0 L398.6,59.5 L398.6,59.0 L398.6,58.5 L398.6,58.0 L398.7,57.5 L398.7,57.0 L398.7,56.5 L398.7,56.0 L398.7,55.5 L398.8,55.0 L398.8,54.5 L398.8,54.0 L398.8,53.5 L398.9,53.0 L398.9,52.5 L398.9,52.0 L398.9,51.5 L398.9,51.0 L399.0,50.5 L399.0,50.0 L399.0,49.5 L399.0,49.0 L399.0,48.5 L399.1,48.0 L399.1,47.5 L399.1,47.0 L399.1,46.5 L399.2,46.0 L399.2,45.5 L399.2,45.0 L399.2,44.5 L399.2,44.0 L399.3,43.5 L399.3,43.0 L399.3,42.5 L399.3,42.0 L399.3,41.5 L399.3,41.0 L399.3,40.5 L399.3,40.0 L399.4,39.5 L399.4,39.0 L399.4,38.5 L399.4,38.0 L399.4,37.5 L399.4,37.0 L399.4,36.5 L399.4,36.0 L399.4,35.5 L399.4,35.0Z" fill="#193269"/>
<path d="M399.4,48.5 L399.4,49.0 L399.4,49.5 L399.5,50.0 L399.5,50.5 L399.5,51.0 L399.5,51.5 L399.5,52.0 L399.6,52.5 L399.6,53.0 L399.6,53.5 L399.6,54.0 L399.7,54.5 L399.7,55.0 L399.7,55.5 L399.7,56.0 L399.8,56.5 L399.8,57.0 L399.8,57.5 L399.8,58.0 L399.8,58.5 L399.9,59.0 L399.9,59.5 L399.9,60.0 L399.9,60.5 L399.9,61.0 L399.9,61.5 L400.0,62.0 L400.0,62.5 L400.0,63.0 L400.0,63.5 L400.0,64.0 L400.0,64.5 L400.0,65.0 L400.1,65.5 L400.1,66.0 L400.1,66.5 L400.1,67.0 L400.1,67.5 L400.1,68.0 L400.2,68.5 L400.2,69.0 L400.2,69.5 L400.2,70.0 L400.2,70.5 L400.3,71.0 L400.3,71.5 L400.3,72.0 L400.3,72.5 L400.4,73.0 L400.4,73.5 L400.4,74.0 L400.4,74.5 L400.5,75.0 L400.5,75.5 L400.5,76.0 L400.6,76.5 L400.6,77.0 L400.6,77.5 L400.7,78.0 L400.7,78.5 L400.7,79.0 L400.8,79.5 L400.8,80.0 L400.8,80.5 L400.9,81.0 L400.9,81.5 L400.9,82.0 L401.0,82.5 L401.0,83.0 L401.0,83.5 L401.0,84.0 L401.1,84.5 L401.1,85.0 L401.1,85.5 L401.1,86.0 L401.2,86.5 L401.2,87.0 L401.3,87.5 L401.3,88.0 L401.4,88.5 L401.5,89.0 L401.6,89.5 L401.7,90.0 L401.7,90.5 L401.8,91.0 L401.9,91.5 L402.0,92.0 L402.1,92.5 L402.2,93.0 L402.3,93.5 L402.4,94.0 L402.5,94.5 L402.6,95.0 L402.7,95.5 L402.8,96.0 L402.9,96.5 L403.1,97.0 L403.2,97.5 L403.3,98.0 L403.4,98.5 L403.5,99.0 L403.6,99.5 L403.7,100.0 L403.8,100.5 L403.9,101.0 L404.0,101.5 L404.1,102.0 L404.2,102.5 L404.4,103.0 L404.5,103.5 L404.6,104.0 L404.8,104.5 L404.9,105.0 L405.0,105.5 L405.2,106.0 L405.3,106.5 L405.5,107.0 L405.7,107.5 L405.9,108.0 L406.1,108.5 L406.3,109.0 L406.5,109.5 L406.8,110.0 L407.1,110.5 L407.4,111.0 L407.7,111.5 L408.0,112.0 L408.3,112.5 L408.6,113.0 L408.9,113.5 L409.2,114.0 L409.5,114.5 L409.8,115.0 L410.2,115.5 L410.5,116.0 L410.9,116.5 L411.2,117.0 L411.5,117.5 L411.9,118.0 L412.2,118.5 L412.5,119.0 L412.8,119.5 L413.1,120.0 L413.4,120.5 L413.8,121.0 L414.1,121.5 L414.4,122.0 L414.7,122.5 L415.1,123.0 L415.4,123.5 L415.8,124.0 L416.2,124.5 L416.5,125.0 L416.9,125.5 L417.2,126.0 L417.5,126.5 L417.8,127.0 L418.1,127.5 L418.3,128.0 L418.6,128.5 L418.9,129.0 L419.2,129.5 L419.5,130.0 L419.7,130.5 L419.9,131.0 L420.1,131.5 L420.3,132.0 L420.4,132.5 L420.6,133.0 L420.7,133.5 L420.8,134.0 L420.9,134.5 L421.1,135.0 L421.2,135.5 L421.3,136.0 L421.4,136.5 L421.4,137.0 L421.5,137.5 L421.5,138.0 L421.6,138.5 L421.6,139.0 L421.6,139.5 L421.6,140.0 L421.7,140.5 L421.6,141.0 L421.6,141.5 L421.6,142.0 L421.6,142.5 L421.5,143.0 L421.4,143.5 L421.2,144.0 L421.0,144.5 L420.8,145.0 L420.7,145.5 L420.6,146.0 L420.4,146.5 L420.3,147.0 L420.1,147.5 L420.0,148.0 L419.8,148.5 L419.6,149.0 L419.4,149.5 L419.2,150.0 L418.9,150.5 L418.7,151.0 L418.5,151.5 L418.2,152.0 L418.0,152.5 L417.7,153.0 L417.5,153.5 L417.2,154.0 L416.9,154.5 L416.5,155.0 L416.2,155.5 L415.9,156.0 L415.6,156.5 L415.3,157.0 L415.0,157.5 L414.7,158.0 L414.4,158.5 L414.1,159.0 L413.8,159.5 L413.5,160.0 L413.2,160.5 L412.9,161.0 L412.7,161.5 L412.4,162.0 L412.1,162.5 L411.8,163.0 L411.5,163.5 L411.3,164.0 L411.0,164.5 L410.8,165.0 L410.6,165.5 L410.4,166.0 L410.2,166.5 L410.0,167.0 L409.8,167.5 L409.7,168.0 L409.5,168.5 L409.3,169.0 L409.1,169.5 L409.0,170.0 L408.8,170.5 L408.6,171.0 L408.5,171.5 L408.3,172.0 L408.1,172.5 L408.0,173.0 L407.8,173.5 L407.7,174.0 L407.5,174.5 L407.4,175.0 L407.2,175.5 L407.0,176.0 L406.9,176.5 L406.7,177.0 L406.5,177.5 L406.3,178.0 L406.2,178.5 L406.0,179.0 L405.8,179.5 L405.6,180.0 L405.4,180.5 L405.3,181.0 L405.1,181.5 L405.0,182.0 L404.8,182.5 L404.6,183.0 L404.5,183.5 L404.3,184.0 L404.2,184.5 L404.1,185.0 L403.9,185.5 L403.8,186.0 L403.6,186.5 L403.5,187.0 L403.4,187.5 L403.2,188.0 L403.1,188.5 L403.0,189.0 L402.8,189.5 L402.7,190.0 L402.6,190.5 L402.4,191.0 L402.3,191.5 L402.2,192.0 L402.1,192.5 L402.0,193.0 L401.9,193.5 L401.8,194.0 L401.7,194.5 L401.7,195.0 L401.6,195.5 L401.5,196.0 L401.5,196.5 L401.4,197.0 L401.3,197.5 L401.3,198.0 L401.2,198.5 L401.1,199.0 L401.0,199.5 L401.0,200.0 L400.9,200.5 L400.8,201.0 L400.8,201.5 L400.7,202.0 L400.7,202.5 L400.6,203.0 L400.5,203.5 L400.5,204.0 L400.4,204.5 L400.3,205.0 L400.3,205.5 L400.2,206.0 L400.2,206.5 L400.1,207.0 L400.0,207.5 L400.0,208.0 L399.9,208.5 L399.9,209.0 L399.8,209.5 L399.8,210.0 L399.7,210.5 L399.7,211.0 L399.6,211.5 L399.6,212.0 L399.5,212.5 L399.5,213.0 L399.4,213.5 L399.4,214.0 L399.4,214.0 L399.4,213.5 L399.3,213.0 L399.3,212.5 L399.2,212.0 L399.2,211.5 L399.1,211.0 L399.1,210.5 L399.0,210.0 L399.0,209.5 L398.9,209.0 L398.9,208.5 L398.8,208.0 L398.8,207.5 L398.7,207.0 L398.6,206.5 L398.6,206.0 L398.5,205.5 L398.5,205.0 L398.4,204.5 L398.3,204.0 L398.3,203.5 L398.2,203.0 L398.1,202.5 L398.1,202.0 L398.0,201.5 L398.0,201.0 L397.9,200.5 L397.8,200.0 L397.8,199.5 L397.7,199.0 L397.6,198.5 L397.5,198.0 L397.5,197.5 L397.4,197.0 L397.3,196.5 L397.3,196.0 L397.2,195.5 L397.1,195.0 L397.1,194.5 L397.0,194.0 L396.9,193.5 L396.8,193.0 L396.7,192.5 L396.6,192.0 L396.5,191.5 L396.4,191.0 L396.2,190.5 L396.1,190.0 L396.0,189.5 L395.8,189.0 L395.7,188.5 L395.6,188.0 L395.4,187.5 L395.3,187.0 L395.2,186.5 L395.0,186.0 L394.9,185.5 L394.7,185.0 L394.6,184.5 L394.5,184.0 L394.3,183.5 L394.2,183.0 L394.0,182.5 L393.8,182.0 L393.7,181.5 L393.5,181.0 L393.4,180.5 L393.2,180.0 L393.0,179.5 L392.8,179.0 L392.6,178.5 L392.5,178.0 L392.3,177.5 L392.1,177.0 L391.9,176.5 L391.8,176.0 L391.6,175.5 L391.4,175.0 L391.3,174.5 L391.1,174.0 L391.0,173.5 L390.8,173.0 L390.7,172.5 L390.5,172.0 L390.3,171.5 L390.2,171.0 L390.0,170.5 L389.8,170.0 L389.7,169.5 L389.5,169.0 L389.3,168.5 L389.1,168.0 L389.0,167.5 L388.8,167.0 L388.6,166.5 L388.4,166.0 L388.2,165.5 L388.0,165.0 L387.8,164.5 L387.5,164.0 L387.3,163.5 L387.0,163.0 L386.7,162.5 L386.4,162.0 L386.1,161.5 L385.9,161.0 L385.6,160.5 L385.3,160.0 L385.0,159.5 L384.7,159.0 L384.4,158.5 L384.1,158.0 L383.8,157.5 L383.5,157.0 L383.2,156.5 L382.9,156.0 L382.6,155.5 L382.3,155.0 L381.9,154.5 L381.6,154.0 L381.3,153.5 L381.1,153.0 L380.8,152.5 L380.6,152.0 L380.3,151.5 L380.1,151.0 L379.9,150.5 L379.6,150.0 L379.4,149.5 L379.2,149.0 L379.0,148.5 L378.8,148.0 L378.7,147.5 L378.5,147.0 L378.4,146.5 L378.2,146.0 L378.1,145.5 L378.0,145.0 L377.8,144.5 L377.6,144.0 L377.4,143.5 L377.3,143.0 L377.2,142.5 L377.2,142.0 L377.2,141.5 L377.2,141.0 L377.1,140.5 L377.2,140.0 L377.2,139.5 L377.2,139.0 L377.2,138.5 L377.3,138.0 L377.3,137.5 L377.4,137.0 L377.4,136.5 L377.5,136.0 L377.6,135.5 L377.7,135.0 L377.9,134.5 L378.0,134.0 L378.1,133.5 L378.2,133.0 L378.4,132.5 L378.5,132.0 L378.7,131.5 L378.9,131.0 L379.1,130.5 L379.3,130.0 L379.6,129.5 L379.9,129.0 L380.2,128.5 L380.5,128.0 L380.7,127.5 L381.0,127.0 L381.3,126.5 L381.6,126.0 L381.9,125.5 L382.3,125.0 L382.6,124.5 L383.0,124.0 L383.4,123.5 L383.7,123.0 L384.1,122.5 L384.4,122.0 L384.7,121.5 L385.0,121.0 L385.4,120.5 L385.7,120.0 L386.0,119.5 L386.3,119.0 L386.6,118.5 L386.9,118.0 L387.3,117.5 L387.6,117.0 L387.9,116.5 L388.3,116.0 L388.6,115.5 L389.0,115.0 L389.3,114.5 L389.6,114.0 L389.9,113.5 L390.2,113.0 L390.5,112.5 L390.8,112.0 L391.1,111.5 L391.4,111.0 L391.7,110.5 L392.0,110.0 L392.3,109.5 L392.5,109.0 L392.7,108.5 L392.9,108.0 L393.1,107.5 L393.3,107.0 L393.5,106.5 L393.6,106.0 L393.8,105.5 L393.9,105.0 L394.0,104.5 L394.2,104.0 L394.3,103.5 L394.4,103.0 L394.6,102.5 L394.7,102.0 L394.8,101.5 L394.9,101.0 L395.0,100.5 L395.1,100.0 L395.2,99.5 L395.3,99.0 L395.4,98.5 L395.5,98.0 L395.6,97.5 L395.7,97.0 L395.9,96.5 L396.0,96.0 L396.1,95.5 L396.2,95.0 L396.3,94.5 L396.4,94.0 L396.5,93.5 L396.6,93.0 L396.7,92.5 L396.8,92.0 L396.9,91.5 L397.0,91.0 L397.1,90.5 L397.1,90.0 L397.2,89.5 L397.3,89.0 L397.4,88.5 L397.5,88.0 L397.5,87.5 L397.6,87.0 L397.6,86.5 L397.7,86.0 L397.7,85.5 L397.7,85.0 L397.7,84.5 L397.8,84.0 L397.8,83.5 L397.8,83.0 L397.8,82.5 L397.9,82.0 L397.9,81.5 L397.9,81.0 L398.0,80.5 L398.0,80.0 L398.0,79.5 L398.1,79.0 L398.1,78.5 L398.1,78.0 L398.2,77.5 L398.2,77.0 L398.2,76.5 L398.3,76.0 L398.3,75.5 L398.3,75.0 L398.4,74.5 L398.4,74.0 L398.4,73.5 L398.4,73.0 L398.5,72.5 L398.5,72.0 L398.5,71.5 L398.5,71.0 L398.6,70.5 L398.6,70.0 L398.6,69.5 L398.6,69.0 L398.6,68.5 L398.7,68.0 L398.7,67.5 L398.7,67.0 L398.7,66.5 L398.7,66.0 L398.7,65.5 L398.8,65.0 L398.8,64.5 L398.8,64.0 L398.8,63.5 L398.8,63.0 L398.8,62.5 L398.8,62.0 L398.9,61.5 L398.9,61.0 L398.9,60.5 L398.9,60.0 L398.9,59.5 L398.9,59.0 L399.0,58.5 L399.0,58.0 L399.0,57.5 L399.0,57.0 L399.0,56.5 L399.1,56.0 L399.1,55.5 L399.1,55.0 L399.1,54.5 L399.2,54.0 L399.2,53.5 L399.2,53.0 L399.2,52.5 L399.3,52.0 L399.3,51.5 L399.3,51.0 L399.3,50.5 L399.3,50.0 L399.4,49.5 L399.4,49.0 L399.4,48.5Z" fill="#2F4A78"/>
<line x1="330.9" y1="100.26" x2="330.9" y2="135.9" stroke="#000" stroke-width="1"/>
<line x1="330.9" y1="159.5" x2="330.9" y2="183.42000000000002" stroke="#000" stroke-width="1"/>
<path d="M327.59999999999997,135.9 L334.2,135.9 L334.2,141.4 L331.04999999999995,148.0 L334.2,154.4 L334.2,159.5 L327.59999999999997,159.5 L327.59999999999997,154.4 L330.75,148.0 L327.59999999999997,141.4 Z" fill="#fff" stroke="#000" stroke-width="1" stroke-linejoin="round"/>
<line x1="399.55" y1="76.5" x2="399.55" y2="124.1" stroke="#000" stroke-width="1"/>
<line x1="399.55" y1="159.6" x2="399.55" y2="195.3" stroke="#000" stroke-width="1"/>
<path d="M396.35,124.1 L402.75,124.1 L402.75,135.0 L399.7,142.0 L402.75,148.8 L402.75,159.6 L396.35,159.6 L396.35,148.8 L399.40000000000003,142.0 L396.35,135.0 Z" fill="#fff" stroke="#000" stroke-width="1" stroke-linejoin="round"/>
<circle cx="399.4" cy="64.62" r="1.5" fill="#000"/>
<text x="452.8" y="119.8" font-size="7.4" text-anchor="start" fill="#000" font-weight="normal" stroke="#000" stroke-width="0.1">Spliceosome</text>
<rect x="452.75" y="124.25" width="9.5" height="9.2" fill="#6AA8DE" stroke="#5A9EDA" stroke-width="0.5"/>
<text x="466" y="131.2" font-size="7.4" text-anchor="start" fill="#000" font-weight="normal" stroke="#000" stroke-width="0.1">Mutated</text>
<rect x="452.75" y="135.25" width="9.5" height="9.2" fill="#2F4A78" stroke="#193269" stroke-width="0.5"/>
<text x="466" y="142.2" font-size="7.4" text-anchor="start" fill="#000" font-weight="normal" stroke="#000" stroke-width="0.1">Wild type</text>
<path d="M49.5,295 L49.5,477.1 L512.8,477.1" fill="none" stroke="#000" stroke-width="1.3"/>
<line x1="46.2" y1="468.85" x2="49.4" y2="468.85" stroke="#000" stroke-width="1"/>
<text x="43.2" y="471.65000000000003" font-size="8.2" text-anchor="end" fill="#333" font-weight="normal" stroke="#333" stroke-width="0.15">0%</text>
<line x1="46.2" y1="427.41" x2="49.4" y2="427.41" stroke="#000" stroke-width="1"/>
<text x="43.2" y="430.21250000000003" font-size="8.2" text-anchor="end" fill="#333" font-weight="normal" stroke="#333" stroke-width="0.15">25%</text>
<line x1="46.2" y1="385.98" x2="49.4" y2="385.98" stroke="#000" stroke-width="1"/>
<text x="43.2" y="388.77500000000003" font-size="8.2" text-anchor="end" fill="#333" font-weight="normal" stroke="#333" stroke-width="0.15">50%</text>
<line x1="46.2" y1="344.54" x2="49.4" y2="344.54" stroke="#000" stroke-width="1"/>
<text x="43.2" y="347.33750000000003" font-size="8.2" text-anchor="end" fill="#333" font-weight="normal" stroke="#333" stroke-width="0.15">75%</text>
<line x1="46.2" y1="303.10" x2="49.4" y2="303.10" stroke="#000" stroke-width="1"/>
<text x="43.2" y="305.90000000000003" font-size="8.2" text-anchor="end" fill="#333" font-weight="normal" stroke="#333" stroke-width="0.15">100%</text>
<rect x="80.30" y="303.10" width="44.6" height="41.44" fill="#CC8C7D"/>
<rect x="80.30" y="344.54" width="44.6" height="124.31" fill="#A30026"/>
<line x1="102.6" y1="477.2" x2="102.6" y2="480.2" stroke="#000" stroke-width="1"/>
<text x="102.6" y="490.4" font-size="8.2" text-anchor="middle" fill="#333" font-weight="normal" stroke="#333" stroke-width="0.15">Wild Type</text>
<rect x="169.60" y="303.10" width="44.6" height="33.98" fill="#CC8C7D"/>
<rect x="169.60" y="337.08" width="44.6" height="131.77" fill="#A30026"/>
<line x1="191.9" y1="477.2" x2="191.9" y2="480.2" stroke="#000" stroke-width="1"/>
<text x="191.9" y="490.4" font-size="8.2" text-anchor="middle" fill="#333" font-weight="normal" stroke="#333" stroke-width="0.15">Spliceosome</text>
<rect x="258.60" y="303.10" width="44.6" height="27.51" fill="#CC8C7D"/>
<rect x="258.60" y="330.61" width="44.6" height="138.24" fill="#A30026"/>
<line x1="280.9" y1="477.2" x2="280.9" y2="480.2" stroke="#000" stroke-width="1"/>
<text x="280.9" y="490.4" font-size="8.2" text-anchor="middle" fill="#333" font-weight="normal" font-style="italic" stroke="#333" stroke-width="0.15">SRSF2</text>
<rect x="347.90" y="303.10" width="44.6" height="20.39" fill="#CC8C7D"/>
<rect x="347.90" y="323.49" width="44.6" height="145.36" fill="#A30026"/>
<line x1="370.2" y1="477.2" x2="370.2" y2="480.2" stroke="#000" stroke-width="1"/>
<text x="370.2" y="490.4" font-size="8.2" text-anchor="middle" fill="#333" font-weight="normal" font-style="italic" stroke="#333" stroke-width="0.15">SF3B1</text>
<rect x="436.90" y="303.10" width="44.6" height="70.78" fill="#CC8C7D"/>
<rect x="436.90" y="373.88" width="44.6" height="94.97" fill="#A30026"/>
<line x1="459.2" y1="477.2" x2="459.2" y2="480.2" stroke="#000" stroke-width="1"/>
<text x="459.2" y="490.4" font-size="8.2" text-anchor="middle" fill="#333" font-weight="normal" font-style="italic" stroke="#333" stroke-width="0.15">U2AF1</text>
<text x="281.1" y="503.8" font-size="9.6" text-anchor="middle" fill="#000" font-weight="normal" stroke="#000" stroke-width="0.3" textLength="17.8" lengthAdjust="spacingAndGlyphs">Group</text>
<text x="16.0" y="386" font-size="9.6" text-anchor="middle" fill="#000" font-weight="normal" stroke="#000" stroke-width="0.3" textLength="22.6" lengthAdjust="spacingAndGlyphs" transform="rotate(-90 16.0 386)">Percent</text>
<text x="236.9" y="525.2" font-size="7.6" text-anchor="start" fill="#000" font-weight="normal" stroke="#000" stroke-width="0.1">CRc</text>
<rect x="261" y="516" width="14" height="13.6" fill="#A30026"/>
<text x="278.2" y="525.2" font-size="7.6" text-anchor="start" fill="#000" font-weight="normal" stroke="#000" stroke-width="0.1">Yes</text>
<rect x="299" y="516" width="13.8" height="13.6" fill="#CC8C7D"/>
<text x="316" y="525.2" font-size="7.6" text-anchor="start" fill="#000" font-weight="normal" stroke="#000" stroke-width="0.1">No</text>
</svg>
</body></html>
